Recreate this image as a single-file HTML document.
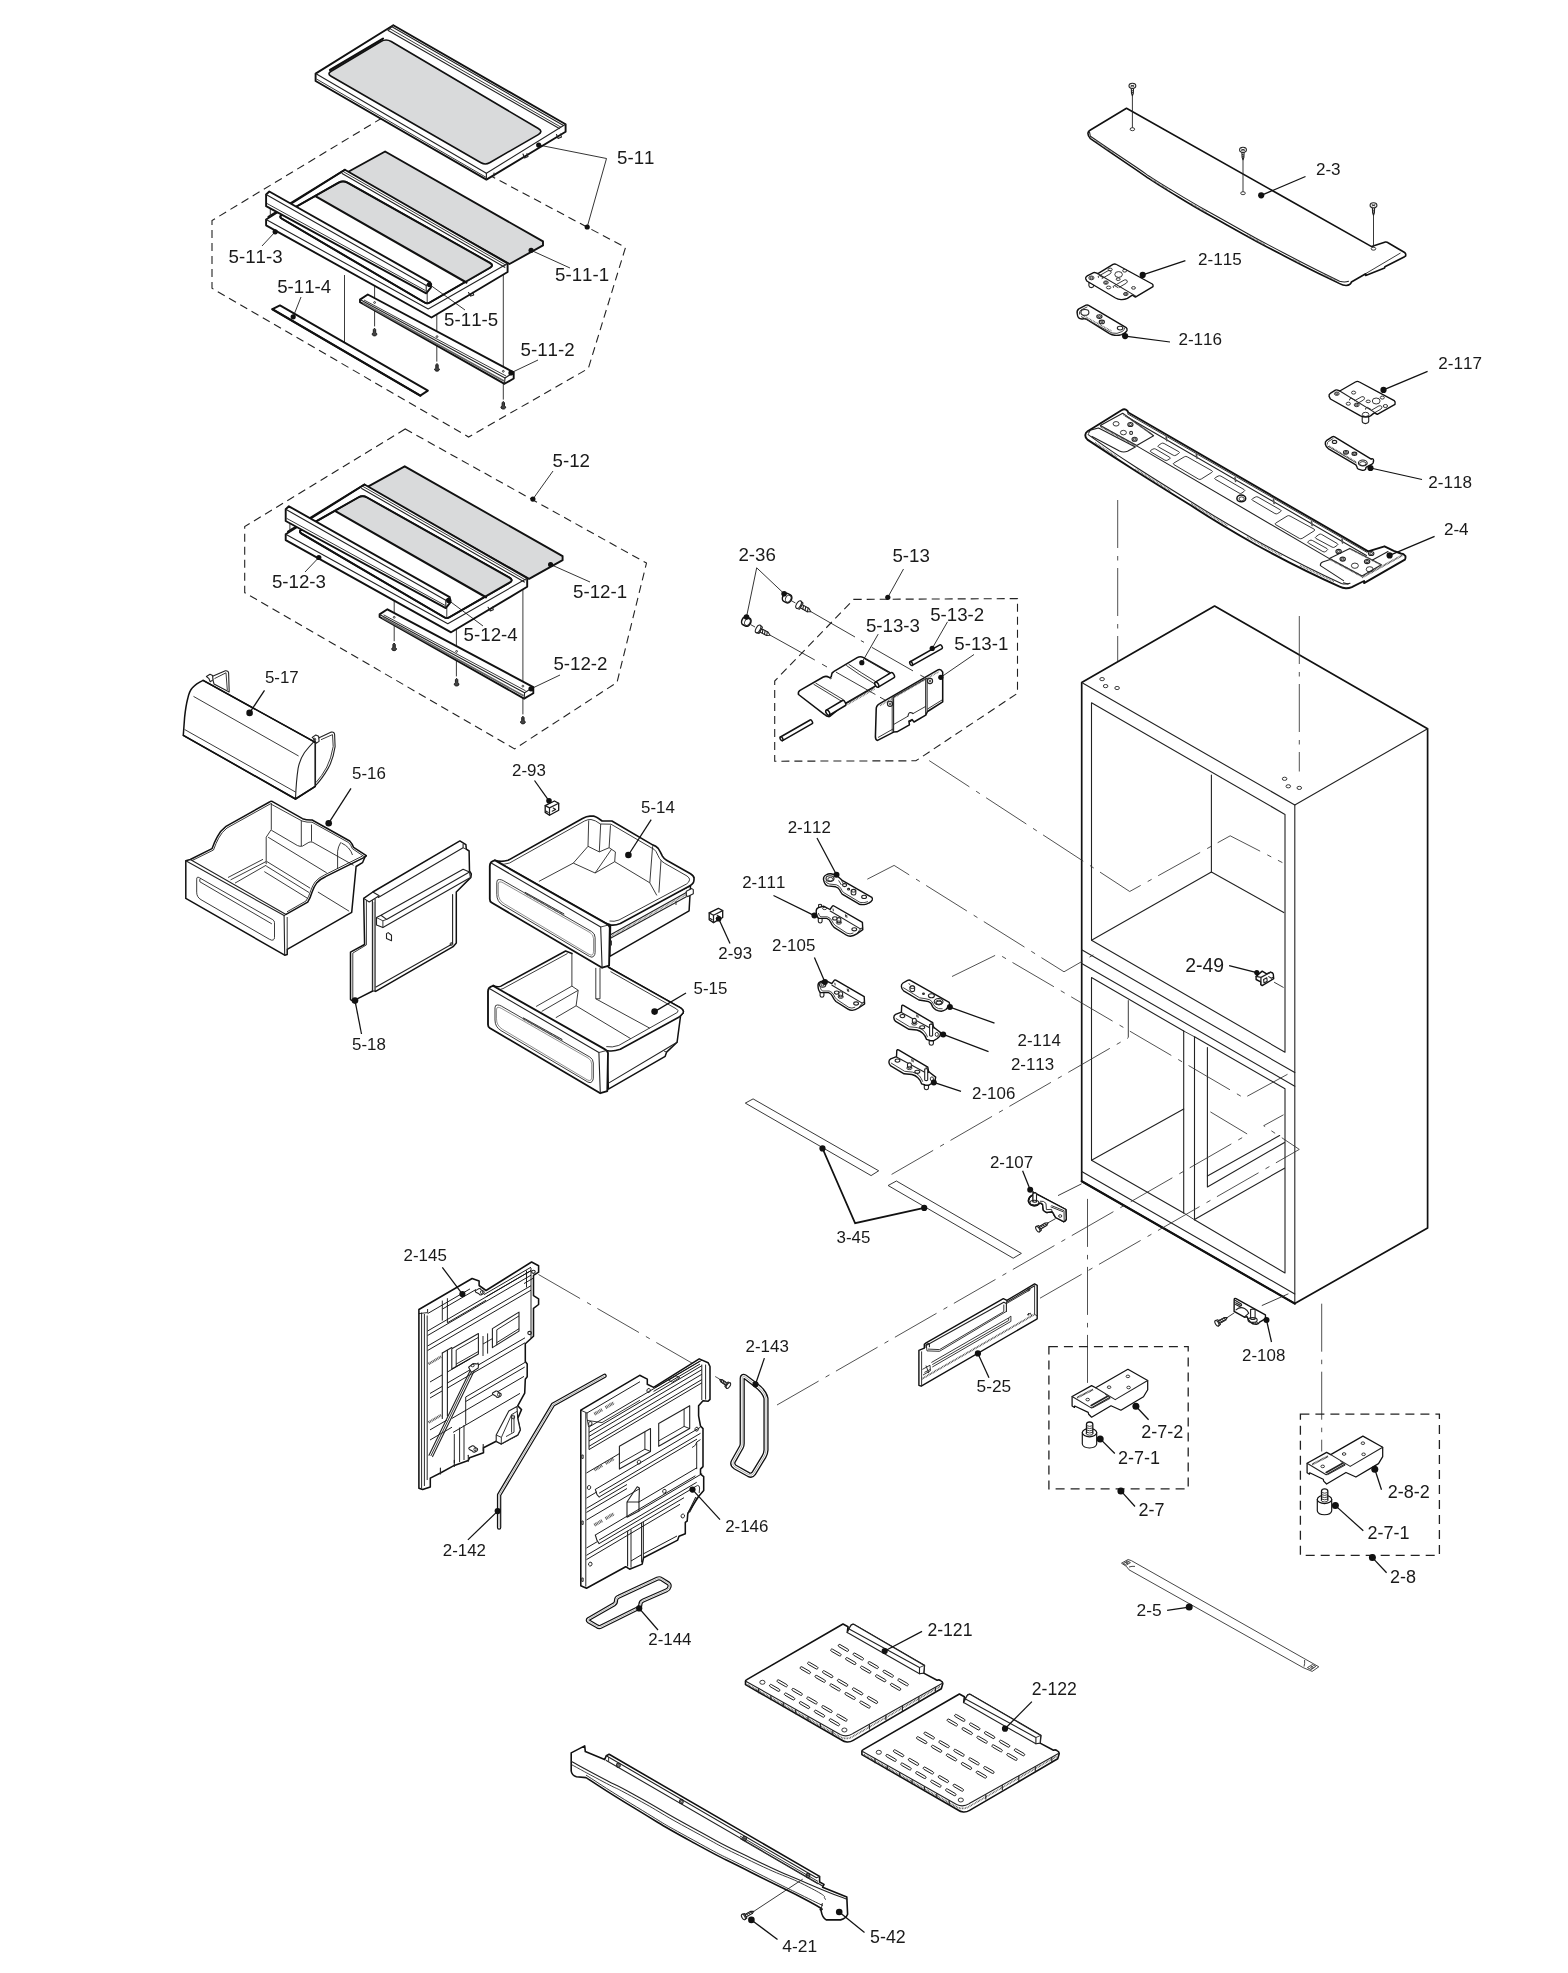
<!DOCTYPE html>
<html><head><meta charset="utf-8"><title>Exploded view</title>
<style>
html,body{margin:0;padding:0;background:#fff;}
body{width:1568px;height:1973px;overflow:hidden;font-family:"Liberation Sans",sans-serif;}
svg{display:block;will-change:transform;filter:blur(0.35px);}
.o{fill:none;stroke:#111;stroke-width:1.5;stroke-linejoin:round;stroke-linecap:round;}
.ow{fill:#fff;stroke:#111;stroke-width:1.5;stroke-linejoin:round;stroke-linecap:round;}
.og{fill:#d9dadb;stroke:#111;stroke-width:1.5;stroke-linejoin:round;}
.k{fill:none;stroke:#111;stroke-width:2.2;stroke-linejoin:round;stroke-linecap:round;}
.kw{fill:#fff;stroke:#111;stroke-width:2.2;stroke-linejoin:round;stroke-linecap:round;}
.m{fill:none;stroke:#222;stroke-width:1.1;stroke-linejoin:round;stroke-linecap:round;}
.mw{fill:#fff;stroke:#222;stroke-width:1.1;stroke-linejoin:round;stroke-linecap:round;}
.t{fill:none;stroke:#262626;stroke-width:0.9;stroke-linejoin:round;}
.tw{fill:#fff;stroke:#262626;stroke-width:0.9;stroke-linejoin:round;}
.d{fill:none;stroke:#222;stroke-width:1.1;stroke-dasharray:8 5;}
.c{fill:none;stroke:#333;stroke-width:0.85;stroke-dasharray:48 8 4.5 7.5;}
.l{fill:none;stroke:#111;stroke-width:1.1;}
.w{fill:#fff;stroke:none;}
.s1 .o,.s1 .ow,.s1 .og{stroke-width:1.9;}
text{font-family:"Liberation Sans",sans-serif;fill:#1a1a1a;font-kerning:none;}
</style></head><body>
<svg width="1568" height="1973" viewBox="0 0 1568 1973">
<rect width="1568" height="1973" fill="#fff"/>
<g class="s1">
<path class="d" d="M382,118 L212,220.5 L212,288.3 L468.6,437 L588.3,368.5 L625.5,247.5 Z" />
<path class="d" d="M405.2,429 L244.7,526.6 L244.7,592.6 L514.6,748.9 L617,682.4 L646.5,563.1 Z" />
<path class="ow" d="M315.6,73.6 L393.3,25.2 L565.6,124.3 L565.6,131.7 L486.4,179.6 L315.6,81 Z" />
<path class="m" d="M315.6,73.6 L486.4,173.2 L565.6,124.3" />
<path class="m" d="M486.4,173.2 L486.4,179.6" />
<path class="t" d="M316.5,79 L486,177.3" />
<path class="m" d="M391.5,26.5 L563.5,125.5" />
<path class="t" d="M389.8,28.6 L561,127.2" />
<path class="m" d="M388.2,30.4 L559.3,128.6" />
<path class="m" d="M393.3,25.2 L388.2,30.4" />
<path class="og" d="M331.1,76.3 Q326.8,73.8 331.1,71.2 L380.9,41.5 Q386,38.4 391.2,41.5 L538.3,128.5 Q543.5,131.6 538.3,134.6 L489.6,162.7 Q485.3,165.2 481,162.7 Z" style="stroke-width:1.6"/>
<path class="k" d="M330,70 L383,38.6" />
<path class="m" d="M523,154 l1.6,4 l3.4,-1.4 l-1,-3"/>
<path class="m" d="M556.5,134.5 l1.6,4 l3.4,-1.4 l-1,-3"/>
<path class="m" d="M494,173 v3"/>
<path class="og" d="M385.1,151.5 L543,241.4 L543,245.4 L509.5,264 L347,172.5 Z" />
<path class="t" d="M374.6,205 L374.6,326.4" />
<path class="t" d="M436.8,240 L436.8,361.6" />
<path class="t" d="M503.3,272 L503.3,399.6" />
<path class="t" d="M344.5,275 L344.5,346.5" />
<path class="ow" d="M344.9,169.7 L507.6,263.4 L507.6,272 L431.5,317.5 L266.1,225.3 L266.1,219.5 Z"/>
<path class="ow" d="M282,218.8 Q278.5,216.8 282,214.8 L338.7,182.7 Q343,180.2 347.4,182.7 L489.8,262.8 Q494.2,265.3 489.9,267.8 L429.8,302.5 Q427.2,304 424.6,302.5 Z"/>
<path d="M316.2,196.6 L339.5,183.2 Q343,181.2 346.5,183.2 L489.7,263.3 Q493.2,265.3 489.8,267.4 L466.4,282.3 Z" fill="#d9dadb" stroke="none"/>
<path class="k" d="M316.2,196.6 L466.4,282.5" />
<path class="o" d="M282,218.8 Q278.5,216.8 282,214.8 L338.7,182.7 Q343,180.2 347.4,182.7 L489.8,262.8 Q494.2,265.3 489.9,267.8 L429.8,302.5 Q427.2,304 424.6,302.5 Z"/>
<path class="m" d="M266.1,219.5 L428.2,309 L507.6,263.4" />
<path class="m" d="M342.1,173.6 L504.8,267.3" />
<path class="t" d="M343.3,171.6 L506.1,265.3" />
<path class="o" d="M268.4,216.7 L344.9,169.7" />
<path class="m" d="M468.5,292.5 l2.2,3.6 l3,-1.2 l-0.8,-2.6"/>
<path class="t" d="M270.3,206 L270.3,217" />
<path class="t" d="M427.2,293 L427.2,304" />
<path class="ow" d="M266.1,194.5 L269.3,191.5 L430.1,282.3 L431,287.3 L426.2,293.3 L266.1,206.2 Z" />
<path class="m" d="M266.1,194.5 L426.2,285.4 L426.2,293.3" />
<path class="m" d="M426.2,285.4 L430.1,282.3" />
<path class="t" d="M267,203.5 L425.5,290.6" />
<path class="ow" d="M360,299.6 L367.8,294.5 L513.7,372.3 L513.7,378.5 L504.5,383.8 L360,302.2 Z" />
<path class="m" d="M360,299.6 L505,378 L513.7,372.3" />
<path class="m" d="M505,378 L504.5,383.8" />
<path class="t" d="M364,300 L506,376" />
<path class="t" d="M363,303 L504,381" style="stroke-width:1.6;stroke:#666"/>
<circle class="t" cx="374.6" cy="302.5" r="0.9" />
<circle class="t" cx="437" cy="336.6" r="0.9" />
<circle class="t" cx="503.3" cy="371.3" r="0.9" />
<path d="M374.5,328.2 L375.7,329.6 L375.7,332.6 Q377.2,333.4 376.9,334.6 Q375.9,336 374.5,335.9 Q373.1,336 372.1,334.6 Q371.8,333.4 373.3,332.6 L373.3,329.6 Z" fill="#444" stroke="#111" stroke-width="0.9"/>
<path d="M437,363.5 L438.2,364.9 L438.2,367.9 Q439.7,368.7 439.4,369.9 Q438.4,371.3 437,371.2 Q435.6,371.3 434.6,369.9 Q434.3,368.7 435.8,367.9 L435.8,364.9 Z" fill="#444" stroke="#111" stroke-width="0.9"/>
<path d="M503.3,401.4 L504.5,402.8 L504.5,405.8 Q506,406.6 505.7,407.8 Q504.7,409.2 503.3,409.1 Q501.9,409.2 500.9,407.8 Q500.6,406.6 502.1,405.8 L502.1,402.8 Z" fill="#444" stroke="#111" stroke-width="0.9"/>
<path class="ow" d="M272.4,309.2 L280,305.4 L427.9,390.6 L420.3,395.6 Z" />
<path class="k" d="M272.4,309.2 L420.3,395.6" />
<g transform="translate(19.6 314.8)" >
<path class="og" d="M385.1,151.5 L543,241.4 L543,245.4 L509.5,264 L347,172.5 Z" />
<path class="t" d="M374.6,205 L374.6,326.4" />
<path class="t" d="M436.8,240 L436.8,361.6" />
<path class="t" d="M503.3,272 L503.3,399.6" />
<path class="ow" d="M344.9,169.7 L507.6,263.4 L507.6,272 L431.5,317.5 L266.1,225.3 L266.1,219.5 Z"/>
<path class="ow" d="M282,218.8 Q278.5,216.8 282,214.8 L338.7,182.7 Q343,180.2 347.4,182.7 L489.8,262.8 Q494.2,265.3 489.9,267.8 L429.8,302.5 Q427.2,304 424.6,302.5 Z"/>
<path d="M316.2,196.6 L339.5,183.2 Q343,181.2 346.5,183.2 L489.7,263.3 Q493.2,265.3 489.8,267.4 L466.4,282.3 Z" fill="#d9dadb" stroke="none"/>
<path class="k" d="M316.2,196.6 L466.4,282.5" />
<path class="o" d="M282,218.8 Q278.5,216.8 282,214.8 L338.7,182.7 Q343,180.2 347.4,182.7 L489.8,262.8 Q494.2,265.3 489.9,267.8 L429.8,302.5 Q427.2,304 424.6,302.5 Z"/>
<path class="m" d="M266.1,219.5 L428.2,309 L507.6,263.4" />
<path class="m" d="M342.1,173.6 L504.8,267.3" />
<path class="t" d="M343.3,171.6 L506.1,265.3" />
<path class="o" d="M268.4,216.7 L344.9,169.7" />
<path class="m" d="M468.5,292.5 l2.2,3.6 l3,-1.2 l-0.8,-2.6"/>
<path class="t" d="M270.3,206 L270.3,217" />
<path class="t" d="M427.2,293 L427.2,304" />
<path class="ow" d="M266.1,194.5 L269.3,191.5 L430.1,282.3 L431,287.3 L426.2,293.3 L266.1,206.2 Z" />
<path class="m" d="M266.1,194.5 L426.2,285.4 L426.2,293.3" />
<path class="m" d="M426.2,285.4 L430.1,282.3" />
<path class="t" d="M267,203.5 L425.5,290.6" />
<path class="ow" d="M360,299.6 L367.8,294.5 L513.7,372.3 L513.7,378.5 L504.5,383.8 L360,302.2 Z" />
<path class="m" d="M360,299.6 L505,378 L513.7,372.3" />
<path class="m" d="M505,378 L504.5,383.8" />
<path class="t" d="M364,300 L506,376" />
<path class="t" d="M363,303 L504,381" style="stroke-width:1.6;stroke:#666"/>
<circle class="t" cx="374.6" cy="302.5" r="0.9" />
<circle class="t" cx="437" cy="336.6" r="0.9" />
<circle class="t" cx="503.3" cy="371.3" r="0.9" />
<path d="M374.5,328.2 L375.7,329.6 L375.7,332.6 Q377.2,333.4 376.9,334.6 Q375.9,336 374.5,335.9 Q373.1,336 372.1,334.6 Q371.8,333.4 373.3,332.6 L373.3,329.6 Z" fill="#444" stroke="#111" stroke-width="0.9"/>
<path d="M437,363.5 L438.2,364.9 L438.2,367.9 Q439.7,368.7 439.4,369.9 Q438.4,371.3 437,371.2 Q435.6,371.3 434.6,369.9 Q434.3,368.7 435.8,367.9 L435.8,364.9 Z" fill="#444" stroke="#111" stroke-width="0.9"/>
<path d="M503.3,401.4 L504.5,402.8 L504.5,405.8 Q506,406.6 505.7,407.8 Q504.7,409.2 503.3,409.1 Q501.9,409.2 500.9,407.8 Q500.6,406.6 502.1,405.8 L502.1,402.8 Z" fill="#444" stroke="#111" stroke-width="0.9"/>
</g>
</g>
<path class="l" d="M538.7,145 L606.5,158.5 L587.2,227" style="stroke-width:0.85"/>
<circle cx="538.7" cy="145" r="2.6" fill="#111"/>
<circle cx="587.2" cy="227" r="2.6" fill="#111"/>
<path class="l" d="M275.2,231.8 L262,246" style="stroke-width:0.85"/>
<circle cx="275.2" cy="231.8" r="2.6" fill="#111"/>
<path class="l" d="M531.1,250.3 L570,268" style="stroke-width:0.85"/>
<circle cx="531.1" cy="250.3" r="2.6" fill="#111"/>
<path class="l" d="M429.5,284.5 L465,310" style="stroke-width:0.85"/>
<circle cx="429.5" cy="284.5" r="2.6" fill="#111"/>
<path class="l" d="M293.2,316.8 L301,297" style="stroke-width:0.85"/>
<circle cx="293.2" cy="316.8" r="2.6" fill="#111"/>
<path class="l" d="M510.9,372.9 L538,360" style="stroke-width:0.85"/>
<circle cx="510.9" cy="372.9" r="2.6" fill="#111"/>
<path class="l" d="M532.9,499.1 L553,471" style="stroke-width:0.85"/>
<circle cx="532.9" cy="499.1" r="2.6" fill="#111"/>
<path class="l" d="M318.8,557.5 L305,572" style="stroke-width:0.85"/>
<circle cx="318.8" cy="557.5" r="2.6" fill="#111"/>
<path class="l" d="M550.6,564.5 L590,582" style="stroke-width:0.85"/>
<circle cx="550.6" cy="564.5" r="2.6" fill="#111"/>
<path class="l" d="M448.7,600.4 L483,626" style="stroke-width:0.85"/>
<circle cx="448.7" cy="600.4" r="2.6" fill="#111"/>
<path class="l" d="M531,688.8 L560,675" style="stroke-width:0.85"/>
<circle cx="531" cy="688.8" r="2.6" fill="#111"/>
<text x="617" y="164.4" font-size="18.72">5-11</text>
<text x="228.5" y="263.2" font-size="18.72">5-11-3</text>
<text x="555" y="281.3" font-size="18.72">5-11-1</text>
<text x="277.2" y="293.2" font-size="18.72">5-11-4</text>
<text x="444.1" y="325.5" font-size="18.72">5-11-5</text>
<text x="520.5" y="355.8" font-size="18.72">5-11-2</text>
<text x="552.5" y="467.2" font-size="18.72">5-12</text>
<text x="271.9" y="587.8" font-size="18.72">5-12-3</text>
<text x="573" y="597.6" font-size="18.72">5-12-1</text>
<text x="463.6" y="641.2" font-size="18.72">5-12-4</text>
<text x="553.4" y="669.7" font-size="18.72">5-12-2</text>
<path class="mw" d="M212,676.6 L225.4,670.8 Q228.4,670.6 228.6,672.8 L229.2,692 L214,684 Z"/>
<path class="t" d="M214.5,678.6 L226,672.8 L227.3,690"/>
<path class="mw" d="M319.1,737.8 L331.3,732.1 Q334.4,731.6 334.6,734.5 L335.1,746.7 Q333,760 328.1,768.4 Q322,779 315.3,785.8 L315.3,742 Z"/>
<path class="t" d="M321,739.7 L332.5,734.6 L333.2,746.5 Q331,759 326.8,767 Q322,776 316,782.5"/>
<path class="ow" d="M183.3,735.3 L184.6,717.4 Q185.8,706 187.8,698.3 Q189.5,691 192.2,688.1 Q196,683.6 203.1,680.4 L314,741.6 L315.3,742.9 L315.3,786.3 L295.5,799 Z"/>
<path class="m" d="M314,741.6 Q309,746.5 304.5,752.5 Q299.8,759.5 298.1,768.4 Q296.2,781 295.5,799"/>
<path class="m" d="M315.3,742.9 L315.3,786.3"/>
<path class="t" d="M193.5,696.4 L298.6,756" />
<path class="t" d="M184.6,729.5 L295.8,792.2" />
<path class="o" d="M203.1,680.4 L314,741.6" style="stroke-width:1.5"/>
<path class="o" d="M183.3,735.3 L295.5,799 L315.3,786.3" style="stroke-width:1.5"/>
<path class="mw" d="M206.4,676.5 l3.6,-2.2 l2.6,1.2 l0.4,4.4 l-2.8,1.8 l-1.2,-3 Z"/>
<path class="mw" d="M312.2,737.4 l3.6,-2.4 l2.8,1.2 l0.5,5.2 l-3,1.8 l-1.4,-3.6 Z"/>
<circle class="t" cx="314.6" cy="739.3" r="1.1" />
<path class="ow" d="M185.8,860.8 L190.3,859.5 L212,848.7 Q214.5,842 217.1,837.2 Q220.5,830.5 226,826.4 L269.5,802 Q271.3,800.6 273.4,802.2 L302.5,818.7 Q307,820.3 312.1,820 L349.7,841 Q352.2,843.6 353.6,847.4 L366.3,855.7 L365,857 L362.5,862.7 L356.1,866.5 L351.7,912.4 L287.2,949.4 L287.2,954.5 L284.7,955.2 L185.8,898.4 Z" style="stroke-width:1.5"/>
<path class="t" d="M271.3,803 L271.3,829.5 L266.2,837.2 L266.2,864" />
<path class="t" d="M266.2,861.5 L230.5,879.9" />
<path class="t" d="M266.2,865.2 L235,883.1" />
<path class="t" d="M263,859.3 L228,877.5" />
<path class="t" d="M266.8,861.5 L310.2,888.2" />
<path class="t" d="M264.3,871.6 L307.7,898.4" />
<path class="t" d="M266.2,866 L309,892.5" />
<path class="t" d="M271.3,830.2 L297.4,845.5 Q300,846.8 302.5,846.1 L308.9,842.3 Q311,841.5 312.8,842.3 L353.6,865.3"/>
<path class="t" d="M301.3,820.6 L301.3,846.1" />
<path class="t" d="M311.5,824.5 L311.5,841.5" />
<path class="t" d="M268.1,837.2 L326.8,872.9" />
<path class="t" d="M340.8,842.3 Q338,847 337.6,851.2 L337.6,869"/>
<path class="t" d="M341.5,843 Q350,847 352.5,855"/>
<path class="t" d="M317.9,892 L349.1,911.2" />
<path class="o" d="M286,914.4 L307.7,902.2 Q310.5,897.5 312.1,892 Q314,886.5 316.6,883.1 Q320,879 325.5,876.7 L363.8,857.6 L366.3,855.7" style="stroke-width:1.5"/>
<path class="t" d="M287,911.8 L306,901 Q309,896.5 310.6,891 Q312.5,885.5 315.2,881.8 Q318.5,877.8 324.5,875 L362.5,856"/>
<path class="m" d="M185.8,860.8 L284.1,915.6 L284.7,955.2" />
<path class="m" d="M190.3,859.5 L286,914.4" />
<path class="m" d="M284.1,915.6 L286,914.4" />
<path class="t" d="M287.2,917 L287.2,949.4" />
<path class="t" d="M192,860.6 L213.5,850 Q216,843 218.6,838.2 Q221.8,832 227,828 L270.5,803.8 L302,821 Q307,822.6 312,822.2 L348.5,842.5 Q351,845 352.3,848.6 L364,856.5"/>
<path class="t" d="M196.7,879.2 Q196.7,876.2 199.3,877.7 L272.8,919.7 Q274.5,920.7 274.5,922.7 L274.5,937.4 Q274.5,939.4 273.2,940 L273.2,940 Q271.9,940.7 269.3,939.2 L201,899.7 Q196.7,897.2 196.7,892.2 Z"/>
<path class="t" d="M199.9,881.8 L271.9,923.9" />
<path class="t" d="M199.9,881.8 Q199.2,879.5 200.6,878.4"/>
<path class="ow" d="M363.7,898.4 L372.8,892 L459.9,840.9 L465.9,844.6 L466.3,849.2 L469.1,851 L469.5,871 L471.3,873.8 L470.9,877.4 L456.3,892 L456.3,943.1 L453.1,946.7 L375.6,991.4 L373.7,990.5 L358.2,998.3 L353.7,1001.5 L350.5,999.6 L350.5,952.2 L364.6,944.5 Z" style="stroke-width:1.5"/>
<rect x="372.4" y="902" width="2.7" height="88.5" fill="#cfcfcf" stroke="none" transform="skewY(0)"/>
<path class="m" d="M372.4,900.5 L372.4,990.8" />
<path class="m" d="M375.1,899 L375.1,991" />
<path class="t" d="M366.4,900.2 L366.4,944.9 L352.8,953.1 L352.8,998.7" />
<path class="m" d="M363.7,898.4 L369.2,902 L379.2,895.7 L372.8,892" />
<path class="m" d="M378.3,897.5 L463.1,847.8 L463.1,844" />
<path class="t" d="M463.1,847.8 L466.3,849.2" />
<path class="mw" d="M376.5,917.6 L381,915.3 L463.1,869.2 L469.5,872 L470.4,877.4 L382.9,927.6 L376.5,924.9 Z" />
<path class="m" d="M381,915.3 L386.5,919.4 L469.5,872" />
<path class="t" d="M386.5,919.4 L382.9,920.8 L376.5,917.6" />
<path class="t" d="M382.9,920.8 L382.9,927.6" />
<path class="m" d="M452.6,894.5 L452.6,943.1 L450.4,944.9" />
<path class="m" d="M376,986.9 L450.4,944.9" />
<circle class="t" cx="451.5" cy="944" r="1.4" />
<path class="m" d="M386.5,933.6 L388.2,932.6 L391.5,935.2 L391.5,940.8 L386.5,938.6 Z" />
<path class="l" d="M249.6,712.9 L264.5,690.4" style="stroke-width:1.25"/>
<circle cx="249.6" cy="712.9" r="3.3" fill="#111"/>
<path class="l" d="M328.7,823.2 L351,788.4" style="stroke-width:1.25"/>
<circle cx="328.7" cy="823.2" r="3.3" fill="#111"/>
<path class="l" d="M355,1000.6 L361.5,1034" style="stroke-width:1.25"/>
<circle cx="355" cy="1000.6" r="3.3" fill="#111"/>
<text x="264.9" y="682.8" font-size="16.9">5-17</text>
<text x="352" y="779.3" font-size="16.9">5-16</text>
<text x="352" y="1049.7" font-size="16.9">5-18</text>
<path class="ow" d="M608.4,967.2 L680.6,1007.9 Q683.2,1009.6 683.4,1011.4 Q683.4,1013.2 682,1014.2 L680.6,1015.6 L677.1,1042.2 L666.6,1052.1 L665.2,1056.3 L608.4,1089.2 L607,1050.6 Z"/>
<path class="w" d="M493.3,985.4 Q497.5,987.8 501,986.1 L565.6,951 L608.4,967.2 L680.6,1007.9 Q683.2,1009.6 683.4,1011.4 Q683.4,1013.2 682,1014.2 L679.2,1017 L620.3,1049.3 Q613,1051.8 607.7,1050.7 Z"/>
<path class="o" style="stroke-width:1.6" d="M493.3,985.4 Q497.5,987.8 501,986.1 L565.6,951 L572,953.4"/>
<path class="o" style="stroke-width:1.6" d="M608.4,967.2 L680.6,1007.9 Q683.2,1009.6 683.4,1011.4 Q683.4,1013.2 682,1014.2 L679.2,1017 L620.3,1049.3 Q613,1051.8 607.7,1050.7"/>
<path class="t" d="M497.5,989 Q500.5,990 503,988.6 L567.5,953.5 M610.5,971.6 L676.6,1009 Q679,1010.6 677.4,1012.4 L618.8,1045.4 Q612,1047.8 606.3,1046.6"/>
<path class="t" d="M571.9,953.9 L571.9,986.1 L536.1,1006.5" />
<path class="t" d="M571.9,986.1 L578.2,990.3 L541.7,1011.4" />
<path class="t" d="M578.2,990.3 L576.1,1005.8 L555.8,1017.7" />
<path class="t" d="M576.1,1005.8 L630.8,1038.7" />
<path class="t" d="M595.8,967.9 L595.8,998.8 L649.8,1028.2" />
<path class="t" d="M600,967.9 L600,998.8 L595.8,998.8" />
<path class="m" d="M677.1,1042.2 L607.7,1083.6" />
<path class="t" d="M666.6,1052.1 L664,1051" />
<g transform="translate(-1.8 125.5)" >
<path class="kw" style="stroke-width:1.85" d="M489.8,866.5 Q489.6,861.5 494.7,860.3 L606,923.4 Q609.6,925.4 609.8,927.7 L609.1,965.6 L602.1,967.7 L491.5,902.5 Q489.8,901.5 489.8,899 Z"/>
<path class="m" d="M491.2,863 L600.7,927 L602.1,967.7" />
<path class="t" d="M600.7,927 L608.5,925" />
<path class="t" d="M496.8,882.3 Q496.8,879.3 499.1,879.5 L499.5,879.5 Q501.5,879.6 503.2,880.6 L591.6,931.5 Q595.1,933.5 595.1,937.5 L595.1,952.6 Q595.1,954.6 593.8,956.1 L593.7,956.3 Q592.2,958 589.6,956.5 L502.8,905.1 Q496.8,901.5 496.8,894.5 Z"/>
<path class="t" d="M498.3,884.6 Q498.3,881.6 499.9,881.8 L499.9,881.8 Q501.5,881.9 503.2,882.9 L590,932.6 Q593.5,934.6 593.5,938.6 L593.5,951.6 Q593.5,953.6 592.5,954.7 L592.5,954.7 Q591.6,955.8 589,954.3 L504.3,903.8 Q498.3,900.2 498.3,893.2 Z" style="stroke-width:0.5"/>
<path class="t" d="M524.9,893.3 L564.2,915.1" style="stroke:#555;stroke-width:1.8;stroke-dasharray:0.8 0.8"/>
<path class="t" d="M524.9,892.2 L564.2,914" />
</g>
<path class="ow" d="M610.5,924.9 L689.1,886.3 L690.5,885.6 L689.1,910.8 L609.8,956.4 Z"/>
<path class="m" d="M610.5,934.7 L686.3,892.6" />
<path class="m" d="M610.5,938.2 L686.3,896.8" />
<path class="t" d="M611,936.4 L686,894.6" style="stroke:#777;stroke-width:1.6;stroke-dasharray:0.7 0.7"/>
<path class="mw" d="M686.3,891.2 l5.5,-2.6 l1.5,1 v4.2 l-5.5,2.8 l-1.5,-0.8 Z"/>
<path class="t" d="M611.5,940.5 L611.5,945.5" />
<path class="t" d="M676,901 L676,905" />
<path class="ow" d="M494.7,860.3 Q501,862.5 508.1,860.3 L582.5,818.5 Q586.6,816.1 590,816.1 L593.7,816.1 Q597,817 602.1,821 L611.9,821 L652.6,844.9 Q656,846 658.2,848.4 Q660.5,852 662.4,856.1 Q664,858.8 666.6,860.3 L690.5,873.7 Q694,876 694,877.9 Q694.2,881 693.3,882.8 Q692,884.8 689.1,886.3 L620.3,923.5 Q615,925.6 610.5,924.9 L606,923.4 Z" style="stroke-width:1.65"/>
<path class="t" d="M499,863.8 Q504,865 509.5,863 L584.5,821 Q588,819.3 591,819.5 Q595,820 600.5,824 L611,824.2 L651,847.6 Q654.5,849 656,851.5 Q658,855.5 659.6,858.6 Q661.5,861.5 664.5,863.2 L687,876 Q689.8,878 689.6,879.8 Q689,882.6 686.5,884 L619,920 Q614,922 609.5,921"/>
<path class="t" d="M588.7,820.5 L588,846.3 L573.3,863.1 L538.9,881.4" />
<path class="t" d="M600.7,823.9 L599.3,851.9" />
<path class="t" d="M610.5,825.3 L609.1,847.7" />
<path class="t" d="M588,846.3 L599.3,851.9 L609.1,847.7 L615.4,851.9 L614.7,861.7 L595.1,873 L573.3,863.1" />
<path class="t" d="M595.1,873 L611.5,849.3" />
<path class="t" d="M614.7,861.7 L649.8,882.8 L656.8,895.4" />
<path class="t" d="M652.6,846.3 L649.8,882.8" />
<path class="t" d="M661,860.3 L658.9,892.6" />
<path class="kw" style="stroke-width:1.85" d="M489.8,866.5 Q489.6,861.5 494.7,860.3 L606,923.4 Q609.6,925.4 609.8,927.7 L609.1,965.6 L602.1,967.7 L491.5,902.5 Q489.8,901.5 489.8,899 Z"/>
<path class="m" d="M491.2,863 L600.7,927 L602.1,967.7" />
<path class="t" d="M600.7,927 L608.5,925" />
<path class="t" d="M496.8,882.3 Q496.8,879.3 499.1,879.5 L499.5,879.5 Q501.5,879.6 503.2,880.6 L591.6,931.5 Q595.1,933.5 595.1,937.5 L595.1,952.6 Q595.1,954.6 593.8,956.1 L593.7,956.3 Q592.2,958 589.6,956.5 L502.8,905.1 Q496.8,901.5 496.8,894.5 Z"/>
<path class="t" d="M498.3,884.6 Q498.3,881.6 499.9,881.8 L499.9,881.8 Q501.5,881.9 503.2,882.9 L590,932.6 Q593.5,934.6 593.5,938.6 L593.5,951.6 Q593.5,953.6 592.5,954.7 L592.5,954.7 Q591.6,955.8 589,954.3 L504.3,903.8 Q498.3,900.2 498.3,893.2 Z" style="stroke-width:0.5"/>
<path class="t" d="M524.9,893.3 L564.2,915.1" style="stroke:#555;stroke-width:1.8;stroke-dasharray:0.8 0.8"/>
<path class="t" d="M524.9,892.2 L564.2,914" />
<path class="ow" style="stroke-width:1.3" d="M545.2,805.6 L554.4,801 L558.7,803.3 L558.7,810.2 L549.5,815.3 L545.2,812.4 Z"/>
<path class="m" style="stroke-width:1.2" d="M545.2,805.6 L549.5,807.9 L558.7,803.3 M549.5,807.9 V815.3"/>
<path class="m" style="stroke-width:1.1" d="M552.2,811.2 l3.4,-1.8 M553.2,808 l2.4,1.4 M546.2,811.2 l2,1.2"/>
<path class="ow" style="stroke-width:1.3" d="M709.2,912.9 L718.4,908.3 L722.7,910.6 L722.7,917.5 L713.5,922.6 L709.2,919.7 Z"/>
<path class="m" style="stroke-width:1.2" d="M709.2,912.9 L713.5,915.2 L722.7,910.6 M713.5,915.2 V922.6"/>
<path class="m" style="stroke-width:1.1" d="M716.2,918.5 l3.4,-1.8 M717.2,915.3 l2.4,1.4 M710.2,918.5 l2,1.2"/>
<path class="l" d="M628.4,855 L651.2,819.6" style="stroke-width:1.25"/>
<circle cx="628.4" cy="855" r="3.3" fill="#111"/>
<path class="l" d="M654.6,1011.6 L686,993" style="stroke-width:1.25"/>
<circle cx="654.6" cy="1011.6" r="3.3" fill="#111"/>
<path class="l" d="M549,800.8 L534.5,780.5" style="stroke-width:1.25"/>
<circle cx="549" cy="800.8" r="2.8" fill="#111"/>
<path class="l" d="M718.7,918.8 L730,943.5" style="stroke-width:1.25"/>
<circle cx="718.7" cy="918.8" r="2.8" fill="#111"/>
<text x="641.1" y="813.1" font-size="16.9">5-14</text>
<text x="693.5" y="993.5" font-size="16.9">5-15</text>
<text x="512.1" y="775.8" font-size="16.9">2-93</text>
<text x="718.3" y="958.5" font-size="16.9">2-93</text>
<path class="d" d="M853.7,599.4 L1017.5,598.6 L1017.5,693.3 L915.9,760.8 L774.7,761.2 L774.7,681 Z" />
<g transform="translate(787.3 598.2) rotate(28)">
<path class="ow" d="M-1.6,-4.4 L1.2,-4.4 A3.2,4.4 0 0 1 1.2,4.4 L-1.6,4.4 A3.2,4.4 0 0 1 -1.6,-4.4 Z"/>
<ellipse class="t" cx="1.0" cy="0" rx="2.6" ry="3.6"/>
</g>
<g transform="translate(746.5 621.6) rotate(28)">
<path class="ow" d="M-1.6,-4.4 L1.2,-4.4 A3.2,4.4 0 0 1 1.2,4.4 L-1.6,4.4 A3.2,4.4 0 0 1 -1.6,-4.4 Z"/>
<ellipse class="t" cx="1.0" cy="0" rx="2.6" ry="3.6"/>
</g>
<path class="t" d="M791,600.5 L795.5,603" />
<path class="t" d="M751,624.8 L755,627" />
<g transform="translate(798.6 604.6) rotate(30.2)">
<path class="mw" d="M0,-4.2 L3.1,-3.57 L3.1,3.57 L0,4.2 Z"/>
<ellipse class="mw" cx="0" cy="0" rx="2.1" ry="4.2"/>
<path class="mw" d="M3.1,-1.8 L11,-1.8 L14.1,0 L11,1.8 L3.1,1.8 Z"/>
<path class="m" d="M4.7,-1.8 L5.9,1.8"/>
<path class="m" d="M7.3,-1.8 L8.5,1.8"/>
<path class="m" d="M10,-1.8 L11.2,1.8"/>
</g>
<g transform="translate(758.1 628.9) rotate(28.3)">
<path class="mw" d="M0,-4.2 L3,-3.57 L3,3.57 L0,4.2 Z"/>
<ellipse class="mw" cx="0" cy="0" rx="2.1" ry="4.2"/>
<path class="mw" d="M3,-1.8 L10.5,-1.8 L13.5,0 L10.5,1.8 L3,1.8 Z"/>
<path class="m" d="M4.5,-1.8 L5.7,1.8"/>
<path class="m" d="M7,-1.8 L8.2,1.8"/>
<path class="m" d="M9.5,-1.8 L10.7,1.8"/>
</g>
<g transform="translate(781.5 738.8) rotate(-29.8)">
<path class="ow" d="M0,-2.1 L34.2,-2.1 A1.1,2.1 0 0 1 34.2,2.1 L0,2.1 Z"/>
<ellipse class="ow" cx="0" cy="0" rx="1.2" ry="2.1"/>
</g>
<g transform="translate(911.2 663.6) rotate(-29.6)">
<path class="ow" d="M0,-2.1 L34.2,-2.1 A1.1,2.1 0 0 1 34.2,2.1 L0,2.1 Z"/>
<ellipse class="ow" cx="0" cy="0" rx="1.2" ry="2.1"/>
</g>
<path class="ow" d="M798.5,694.5 Q797.8,691.8 800,690.4 L823.3,677 Q826.5,675.6 829,677.4 Q831.2,678.4 831.6,674.8 Q831.6,672.8 833.6,671.7 L857.2,657.6 Q860.3,655.9 863.6,657.6 L890,672.7 L876,685.6 L846.3,703 L829.5,716.6 Q826.6,716.8 824.6,714.6 Z" style="stroke-width:1.55"/>
<path class="t" d="M813.6,684.2 L841.5,701.2" />
<path class="t" d="M815.5,683 L843.5,699.8" />
<path class="t" d="M846.3,665.4 Q858,674 874.2,683.6 M848.6,664.2 Q861,672.8 876,681.8"/>
<path class="t" d="M864.5,658.8 L888,672.4"/>
<path class="m" d="M848,702.6 L874,687.6" />
<path class="t" d="M847.5,704.4 L874.5,689" style="stroke-width:1.6;stroke:#666;stroke-dasharray:0.8 0.8"/>
<path class="t" d="M829.6,678.4 q1.4,1.4 2,-0.6"/>
<g transform="translate(876.8 684.6) rotate(-30.7)">
<path class="ow" d="M0,-2.9 L18.4,-2.9 A1.4,2.9 0 0 1 18.4,2.9 L0,2.9 Z"/>
<ellipse class="ow" cx="0" cy="0" rx="1.6" ry="2.9"/>
</g>
<g transform="translate(827.8 712.6) rotate(-30.7)">
<path class="ow" d="M0,-2.9 L18.8,-2.9 A1.4,2.9 0 0 1 18.8,2.9 L0,2.9 Z"/>
<ellipse class="ow" cx="0" cy="0" rx="1.6" ry="2.9"/>
</g>
<path class="ow" d="M876.2,709.4 Q876,705.6 879.7,703.6 L938.4,669.7 Q940.8,668.6 942.7,672.1 L942.7,701.8 L927.5,711.5 L925.7,715.1 L914,722 L912,719.6 L909,721.2 L909.4,724.8 L897,731.8 L893.6,732.1 L877.6,740.4 Q875.6,740.2 875.4,736.9 Z" style="stroke-width:1.55"/>
<path class="m" d="M893.6,697 L925.7,678.8 L925.7,715.1" />
<path class="m" d="M893.6,697 L893.6,732.1" />
<path class="t" d="M892.2,696 L892.2,731.8" />
<path class="t" d="M927.2,678 L927.2,711.5" />
<path class="t" d="M880,705.6 L938.6,671.8" style="stroke-width:1.5;stroke:#666;stroke-dasharray:0.8 0.8"/>
<path class="t" d="M893.6,724.5 L908,716.2" />
<path class="t" d="M913,713.6 L925.7,706.4" />
<path class="m" d="M908,716.2 Q908.6,712.2 910.6,712.6 Q912.6,713 913,713.6 M909,721.2 Q910.6,722.4 912,719.6"/>
<path class="t" d="M878,737.5 L893,729" />
<path class="t" d="M927.5,709 L942,700" />
<circle class="m" cx="890" cy="703.8" r="2.6" />
<circle class="t" cx="890" cy="703.8" r="0.8" />
<circle class="m" cx="930" cy="681" r="2.6" />
<circle class="t" cx="930" cy="681" r="0.8" />
<path class="t" d="M810.8,611.6 L855,637" />
<path class="t" d="M860.9,640.6 L864,642.3" />
<path class="t" d="M871.8,647.3 L913,670.9" />
<path class="t" d="M920.3,675.1 L927.5,679" />
<path class="t" d="M770,635.1 L814.8,660" />
<path class="t" d="M822.1,664.2 L827,667" />
<path class="t" d="M836,672.1 L875.4,694.5" />
<path class="t" d="M880,697.2 L885,700" />
<path class="l" d="M784.1,593.7 L756.7,567.8 L746.5,617" style="stroke-width:0.85"/>
<circle cx="784.1" cy="593.7" r="2.8" fill="#111"/>
<circle cx="746.5" cy="617" r="2.8" fill="#111"/>
<path class="l" d="M887.8,597.3 L903.5,569" style="stroke-width:0.85"/>
<circle cx="887.8" cy="597.3" r="2.6" fill="#111"/>
<path class="l" d="M861.8,662.7 L878.2,634.1" style="stroke-width:0.85"/>
<circle cx="861.8" cy="662.7" r="2.6" fill="#111"/>
<path class="l" d="M932.2,648.4 L947.5,621.8" style="stroke-width:0.85"/>
<circle cx="932.2" cy="648.4" r="2.6" fill="#111"/>
<path class="l" d="M940.8,677.3 L974,654.5" style="stroke-width:0.85"/>
<circle cx="940.8" cy="677.3" r="2.6" fill="#111"/>
<text x="738.4" y="561.4" font-size="18.72">2-36</text>
<text x="892.4" y="562.4" font-size="18.72">5-13</text>
<text x="865.9" y="631.8" font-size="18.72">5-13-3</text>
<text x="930.2" y="620.6" font-size="18.72">5-13-2</text>
<text x="954.3" y="650.2" font-size="18.72">5-13-1</text>
<path class="ow" d="M1126.5,108.3 L1371.6,246.6 L1385.4,242 Q1387,241.8 1388,242.7 L1404.6,252.5 Q1406.2,253.6 1405.6,256 L1404.6,256.7 L1384.9,266.8 L1384.6,268 L1365.7,275.5 L1365.7,273.8 L1351.4,282 Q1350.8,285 1346.1,285.5 Q1343,285.4 1339.6,283.6 C1321.3,274.5 1322.2,275.7 1284.8,256.2 C1247.4,236.7 1265.7,246.6 1227.4,225.2 C1189.1,203.8 1202.5,211.8 1170,191.9 C1137.5,172 1156.5,183.4 1130,165.6 C1103.5,147.8 1103.6,147.6 1090.4,138.6 Q1087.6,136 1088,132.8 Q1088.2,131.2 1090,130.2 Z" style="stroke-width:1.6"/>
<path class="m" d="M1089.5,132 L1090.4,136.3 C1103.6,145.2 1103.5,145.4 1130,163 C1156.5,180.6 1137.5,169.4 1170,189.1 C1202.5,208.8 1189.1,200.7 1227.4,222.2 C1265.7,243.7 1247.4,233.8 1284.8,253.5 C1322.2,273.2 1321.3,272 1339.6,281.3 Q1345,282.6 1348.5,281.2"/>
<path class="t" d="M1400.5,253 L1365.7,273.6" />
<path class="t" d="M1096.1,141.2 L1098.4,142.8 L1100.6,144.4 L1102.8,145.9 L1105.2,147.5 L1107.8,149.3 L1110.9,151.4 L1114.5,153.9" style="stroke-width:1.5;stroke:#777;stroke-dasharray:0.8 0.8"/>
<path class="t" d="M1151.1,178.9 L1153.8,180.6 L1157.6,183 L1162.9,186.2 L1170,190.6" style="stroke-width:1.5;stroke:#777;stroke-dasharray:0.8 0.8"/>
<path class="t" d="M1190.8,203.3 L1193.8,205.1 L1196.5,206.7 L1199.4,208.3 L1202.7,210.2 L1206.9,212.4" style="stroke-width:1.5;stroke:#777;stroke-dasharray:0.8 0.8"/>
<path class="t" d="M1247.3,235 L1251,237.1 L1253.9,238.8 L1256.4,240.1 L1258.9,241.5 L1261.8,243 L1265.4,244.9" style="stroke-width:1.5;stroke:#777;stroke-dasharray:0.8 0.8"/>
<path class="t" d="M1293.4,259.4 L1300.6,263.1" style="stroke-width:1.5;stroke:#777;stroke-dasharray:0.8 0.8"/>
<path class="t" d="M1322.6,274 L1325.6,275.5 L1328.6,276.9 L1331.8,278.5 L1335.4,280.2" style="stroke-width:1.5;stroke:#777;stroke-dasharray:0.8 0.8"/>
<path class="t" d="M1132.4,94.8 L1132.4,127.8" style="stroke:#222"/>
<ellipse class="t" cx="1132.4" cy="129.2" rx="2.3" ry="1.5" />
<path class="m" d="M1131.3,88.3 L1131.5,93.3 L1132.4,95.8 L1133.3,93.3 L1133.5,88.3" style="fill:#fff"/>
<path class="t" d="M1131.4,90.3 l2,0.8 M1131.4,92.1 l2,0.8"/>
<ellipse class="mw" cx="1132.4" cy="85.8" rx="3.4" ry="2.6" />
<path class="t" d="M1130.6,85 l3.6,1.6 M1130.6,86.6 l3.6,-1.6"/>
<path class="t" d="M1243,158.8 L1243,191.8" style="stroke:#222"/>
<ellipse class="t" cx="1243" cy="193.2" rx="2.3" ry="1.5" />
<path class="m" d="M1241.9,152.3 L1242.1,157.3 L1243,159.8 L1243.9,157.3 L1244.1,152.3" style="fill:#fff"/>
<path class="t" d="M1242,154.3 l2,0.8 M1242,156.1 l2,0.8"/>
<ellipse class="mw" cx="1243" cy="149.8" rx="3.4" ry="2.6" />
<path class="t" d="M1241.2,149 l3.6,1.6 M1241.2,150.6 l3.6,-1.6"/>
<path class="t" d="M1373.5,214.3 L1373.5,247.3" style="stroke:#222"/>
<ellipse class="t" cx="1373.5" cy="248.7" rx="2.3" ry="1.5" />
<path class="m" d="M1372.4,207.8 L1372.6,212.8 L1373.5,215.3 L1374.4,212.8 L1374.6,207.8" style="fill:#fff"/>
<path class="t" d="M1372.5,209.8 l2,0.8 M1372.5,211.6 l2,0.8"/>
<ellipse class="mw" cx="1373.5" cy="205.3" rx="3.4" ry="2.6" />
<path class="t" d="M1371.7,204.5 l3.6,1.6 M1371.7,206.1 l3.6,-1.6"/>
<path class="mw" d="M1088.9,282.4 v3.2 q0.2,2 2.4,2 q2.2,0 2.4,-2 v-2.6 Z"/>
<path class="ow" d="M1085.7,278.8 Q1085.2,276.9 1087.2,275.8 L1093.6,272.6 Q1094.8,272.2 1096,272.8 L1097.9,273.7 L1113,264.4 Q1114.7,263.4 1116.5,264.5 L1152.3,284 Q1153.4,284.7 1153,286.7 L1135.4,297.1 L1132.3,295.2 L1127.4,298.4 Q1124.5,299.8 1121,299.6 Q1118,299.4 1115.5,298 L1086.8,281 Z" style="stroke-width:1.4"/>
<path class="m" d="M1097.9,273.7 L1135.4,295.9" />
<ellipse class="t" cx="1110.2" cy="269.5" rx="2" ry="1.4" style="stroke:#222"/>
<ellipse class="t" cx="1124.7" cy="270.7" rx="2" ry="1.4" style="stroke:#222"/>
<ellipse class="t" cx="1118.6" cy="274.5" rx="3.8" ry="2.9" style="stroke:#222"/>
<ellipse class="t" cx="1118.2" cy="279.2" rx="2" ry="1.3" style="stroke:#222"/>
<ellipse class="t" cx="1105.9" cy="282.6" rx="2.4" ry="1.7" style="stroke:#222"/>
<ellipse class="t" cx="1108.6" cy="287.5" rx="2.2" ry="1.4" style="stroke:#222"/>
<ellipse class="t" cx="1133.5" cy="287.9" rx="2" ry="1.3" style="stroke:#222"/>
<ellipse class="t" cx="1125.8" cy="294" rx="2.3" ry="1.6" style="stroke:#222"/>
<ellipse class="t" cx="1091.4" cy="277.9" rx="2.6" ry="1.9" style="stroke:#222"/>
<ellipse class="t" cx="1091.4" cy="277.9" rx="1.4" ry="1" />
<ellipse class="t" cx="1105.9" cy="282.6" rx="1.3" ry="0.9" />
<ellipse class="t" cx="1125.8" cy="294" rx="1.3" ry="0.9" />
<path class="t" d="M1099.5,275.6 l8.6,-4.9 q1.8,-0.6 2.8,0.6 q0.8,1.4 -0.8,2.6 l-8.4,4.8 M1098.6,277.8 q-1.6,-1.4 0.9,-2.2 l3.6,2 M1114.5,285.6 l9.8,-5.6 q1.8,-0.6 2.8,0.6 q0.8,1.4 -0.8,2.6 l-7.6,4.4 M1113.6,287.8 q-1.6,-1.4 0.9,-2.2 l3.6,2" style="stroke:#222"/>
<path class="ow" d="M1077.2,313.5 Q1076.6,310.6 1078.8,308.9 L1086,305.2 Q1087.4,304.6 1088.6,305.3 L1126.2,327.6 Q1127.4,328.4 1127,330.4 Q1126,332.8 1121.6,334.6 Q1118,335.7 1114.7,335.3 Q1112,335 1109.5,333.6 L1087.2,319.6 Q1085.6,318.4 1083.6,318.8 Q1080.4,319.6 1078.6,317.8 Q1077.4,316.2 1077.2,313.5 Z" style="stroke-width:1.4"/>
<path class="t" d="M1079.4,314.5 Q1079,311.4 1081,310 L1087.4,306.8 M1081,316.5 L1112,333 Q1117,334.4 1122,331.6 Q1125,329.6 1124.6,327.8" style="stroke:#333"/>
<path class="t" d="M1083,315.5 L1111.5,331" style="stroke-width:1.3;stroke:#555;stroke-dasharray:0.8 0.8"/>
<ellipse class="m" cx="1084.9" cy="312.4" rx="4" ry="2.9" />
<ellipse class="m" cx="1099.4" cy="316.6" rx="2.6" ry="1.8" />
<ellipse class="m" cx="1101.8" cy="321.9" rx="2.6" ry="1.8" />
<ellipse class="m" cx="1120.1" cy="328.1" rx="2.8" ry="1.9" />
<ellipse class="t" cx="1099.4" cy="316.6" rx="1.2" ry="0.8" />
<ellipse class="t" cx="1101.8" cy="321.9" rx="1.2" ry="0.8" />
<path class="mw" d="M1362.2,416.5 v4.8 q0.2,2.2 3.2,2.3 q3,-0.1 3.3,-2.3 v-5 Z"/>
<path class="ow" d="M1329.1,396.4 Q1328.6,394.4 1330.6,393.2 L1335.4,390.2 Q1336.4,389.6 1337.6,390.1 L1339.8,391 L1355.4,382 Q1357.4,380.8 1359.4,382 L1394.2,400.6 Q1395.6,401.6 1395,404.3 L1377.3,414.4 L1374.3,412.9 L1370.5,415.9 Q1366,418.2 1360.5,415.9 L1330.4,399 Z" style="stroke-width:1.4"/>
<path class="m" d="M1339.8,391 L1376.6,413.6" />
<ellipse class="t" cx="1336.8" cy="393.7" rx="2.4" ry="1.7" style="stroke:#222"/>
<ellipse class="t" cx="1353.6" cy="392.6" rx="2.1" ry="1.5" style="stroke:#222"/>
<ellipse class="t" cx="1376.2" cy="401" rx="3.9" ry="3" style="stroke:#222"/>
<ellipse class="t" cx="1368.2" cy="401.4" rx="2.1" ry="1.3" style="stroke:#222"/>
<ellipse class="t" cx="1382.3" cy="397.6" rx="2" ry="1.5" style="stroke:#222"/>
<ellipse class="t" cx="1385.4" cy="406" rx="2.2" ry="1.5" style="stroke:#222"/>
<ellipse class="t" cx="1356.7" cy="404.9" rx="2.5" ry="1.8" style="stroke:#222"/>
<ellipse class="t" cx="1348.3" cy="403.7" rx="2.1" ry="1.5" style="stroke:#222"/>
<ellipse class="t" cx="1365.6" cy="414.4" rx="3.3" ry="2.1" style="stroke:#222"/>
<ellipse class="t" cx="1336.8" cy="393.7" rx="1.2" ry="0.8" />
<ellipse class="t" cx="1356.7" cy="404.9" rx="1.3" ry="0.9" />
<path class="t" d="M1354.5,400.8 l7,-4 q1.8,-0.6 2.8,0.6 q0.8,1.4 -0.8,2.6 l-6.8,3.9 M1349.5,400.4 q-0.6,-1.8 2,-2.2 l3.8,2.2 M1371.5,410.2 l7.4,-4.3 q1.8,-0.6 2.8,0.6 q0.8,1.4 -0.8,2.6 l-6,3.5 M1365.5,409.6 q-0.6,-1.8 2,-2.2 l3.8,2.2" style="stroke:#222"/>
<path class="ow" d="M1325.3,444.2 Q1324.8,441.8 1326.8,440.4 L1332.2,436.8 Q1333.3,436.1 1334.6,436.9 L1371.2,459.2 L1372.2,458.6 Q1373.6,458.8 1373.6,460.5 L1373.1,463 Q1372.6,464.2 1370.5,464.9 L1366,467.4 L1365.6,469.2 Q1364,470.6 1362.4,470.3 L1358.4,469.2 Q1357,468.4 1357,467 L1355.9,464.9 L1328.6,448.8 Q1325.8,447 1325.3,444.2 Z" style="stroke-width:1.4"/>
<path class="t" d="M1327.2,444.6 Q1327,442.4 1328.6,441.4 L1333.4,438.4 M1327.6,446 L1356.5,463" style="stroke:#333"/>
<path class="t" d="M1329,446 L1356,461.8" style="stroke-width:1.3;stroke:#555;stroke-dasharray:0.8 0.8"/>
<ellipse class="m" cx="1362.8" cy="463" rx="4.4" ry="3" />
<ellipse class="t" cx="1362.8" cy="463.6" rx="3.2" ry="2" />
<ellipse class="m" cx="1334.5" cy="441.9" rx="2.2" ry="1.5" />
<ellipse class="m" cx="1346" cy="452.3" rx="2.5" ry="1.8" />
<ellipse class="m" cx="1354.4" cy="453.8" rx="2.4" ry="1.7" />
<ellipse class="t" cx="1346" cy="452.3" rx="1.2" ry="0.8" />
<ellipse class="t" cx="1354.4" cy="453.8" rx="1.2" ry="0.8" />
<path class="ow" d="M1097.4,425.2 L1121.5,410.2 Q1124.8,408.3 1127.2,410.6 L1128.3,412.5 L1368.2,551.4 L1384.5,546.3 L1393.7,550.9 L1400.8,553.5 Q1403.5,553.4 1405.4,556 Q1405.8,558.4 1404.9,559.6 L1364.1,583.1 L1364.1,581 L1362,582 L1351.8,587.1 Q1348.6,588.4 1345.7,588.2 Q1342.6,588 1339.6,586.6 Q1300,569 1256.4,545 Q1220,524.5 1191.5,505.8 Q1160,486.5 1135.3,470.8 Q1110,454.5 1087.4,439.6 Q1085.2,438 1085.3,435 Q1085.5,432.6 1087.6,431.2 Z" style="stroke-width:1.9"/>
<path class="m" d="M1088.2,434.6 Q1110,450.4 1135.3,466.8 Q1160,482.6 1191.5,502 Q1220,520 1256.4,540.4 Q1300,564.5 1341.4,583.4 Q1345.5,584.8 1350,583.2"/>
<path class="m" d="M1125.5,416 L1366.4,555.4" />
<path class="t" d="M1127.2,413.6 L1367.4,552.6" />
<path class="m" d="M1136.7,445.9 L1329.4,558.6" />
<path class="m" d="M1100.3,425.6 L1122.7,413.2 L1153.6,435.7 L1136.7,445.5 Z" />
<path class="t" d="M1100.3,426.2 L1136.7,446.2" style="stroke-width:2;stroke:#444;stroke-dasharray:0.8 0.6"/>
<path class="t" d="M1123.5,414.6 L1152,434.2" style="stroke-width:1.4;stroke:#666;stroke-dasharray:0.8 0.8"/>
<path class="m" d="M1088.6,433.2 Q1089.4,430.8 1092,429.6 L1098.6,428 L1135.3,446.9 L1127.5,451.2 Q1123.5,452.8 1119.5,451 L1092,436.4"/>
<ellipse class="t" cx="1116.1" cy="423.8" rx="3" ry="2.25" style="stroke:#222"/>
<ellipse class="t" cx="1123.4" cy="432.6" rx="3" ry="2.25" style="stroke:#222"/>
<ellipse class="m" cx="1130.4" cy="424.5" rx="2.6" ry="2" />
<ellipse class="t" cx="1130.4" cy="424.5" rx="1.3" ry="1" />
<ellipse class="m" cx="1134.6" cy="439.2" rx="2.6" ry="2" />
<ellipse class="t" cx="1134.6" cy="439.2" rx="1.3" ry="1" />
<ellipse class="m" cx="1131.1" cy="432.9" rx="1.4" ry="1.6" />
<path class="m" d="M1329.4,558.6 L1349.8,548.4 L1381.4,564.7 L1362,575.9 Z" />
<path class="t" d="M1329.4,558.8 L1362,576.4" style="stroke-width:2;stroke:#444;stroke-dasharray:0.8 0.6"/>
<path class="t" d="M1349.8,548.8 L1381.4,565.2" style="stroke-width:1.4;stroke:#666;stroke-dasharray:0.8 0.8"/>
<path class="t" d="M1362,577.4 L1402.9,555" style="stroke-width:2;stroke:#444;stroke-dasharray:0.8 0.6"/>
<path class="m" d="M1372.5,560 L1388,551.5" />
<path class="m" d="M1329.4,559.8 L1322.6,562 Q1320,563.4 1320.4,565.6 L1343.5,580.6 M1343.5,582.8 L1348,584"/>
<ellipse class="t" cx="1354.9" cy="565.7" rx="3.5" ry="2.625" style="stroke:#222"/>
<ellipse class="t" cx="1369.7" cy="569.3" rx="3.5" ry="2.625" style="stroke:#222"/>
<ellipse class="m" cx="1338.6" cy="551.4" rx="2.7" ry="2" />
<ellipse class="t" cx="1338.6" cy="551.4" rx="1.3" ry="1" />
<ellipse class="m" cx="1342.7" cy="559.1" rx="2.7" ry="2" />
<ellipse class="t" cx="1342.7" cy="559.1" rx="1.3" ry="1" />
<ellipse class="m" cx="1367.1" cy="561.6" rx="2.7" ry="2" />
<ellipse class="t" cx="1367.1" cy="561.6" rx="1.3" ry="1" />
<ellipse class="m" cx="1371.2" cy="553.5" rx="2.7" ry="2" />
<ellipse class="t" cx="1371.2" cy="553.5" rx="1.3" ry="1" />
<path class="t" d="M1158.5,447 Q1157.1,446.2 1158.5,445.4 L1161.3,443.5 Q1162.7,442.7 1164.1,443.5 L1178.8,451.7 Q1180.2,452.5 1178.8,453.3 L1176,455.2 Q1174.6,456 1173.2,455.2 Z" style="stroke:#222"/>
<path class="t" d="M1150.8,451.9 Q1149.4,451.1 1150.8,450.3 L1152.9,449.1 Q1154.3,448.3 1155.7,449.1 L1169.7,457.3 Q1171.1,458.1 1169.7,458.9 L1167.6,460.1 Q1166.2,460.9 1164.8,460.1 Z" style="stroke:#222"/>
<path class="t" d="M1173.9,464.6 Q1172.5,463.8 1173.9,463 L1184.4,456.8 Q1185.8,456 1187.2,456.8 L1211.8,470.7 Q1213.2,471.5 1211.8,472.4 L1201.3,479 Q1199.9,479.9 1198.5,479.1 Z" style="stroke:#222"/>
<path class="t" d="M1215.3,479.3 Q1213.9,478.5 1215.3,477.7 L1218.1,476.1 Q1219.5,475.3 1220.9,476.1 L1244.1,489.6 Q1245.5,490.4 1244.2,491.3 L1241.9,493 Q1240.6,493.9 1239.2,493.1 Z" style="stroke:#222"/>
<path class="t" d="M1252.5,500.3 Q1251.1,499.5 1252.5,498.7 L1255.3,497.1 Q1256.7,496.3 1258.1,497.1 L1280.6,510 Q1282,510.8 1280.6,511.6 L1277.7,513.5 Q1276.3,514.3 1274.9,513.5 Z" style="stroke:#222"/>
<path class="t" d="M1275.7,524.7 Q1274.3,523.9 1275.7,523.1 L1287.2,516 Q1288.6,515.2 1290,516 L1314.2,529.2 Q1315.6,530 1314.2,530.8 L1302.2,538.4 Q1300.8,539.2 1299.4,538.4 Z" style="stroke:#222"/>
<path class="t" d="M1316,538.5 Q1314.6,537.7 1315.9,536.8 L1318.9,534.5 Q1320.2,533.6 1321.6,534.4 L1337.2,543.5 Q1338.6,544.3 1337.3,545.2 L1334.8,547 Q1333.5,547.9 1332.1,547.1 Z" style="stroke:#222"/>
<path class="t" d="M1308.3,543 Q1306.9,542.2 1308.3,541.4 L1309.6,540.5 Q1311,539.7 1312.4,540.5 L1327,548.6 Q1328.4,549.4 1327.1,550.3 L1325.6,551.5 Q1324.3,552.4 1322.9,551.6 Z" style="stroke:#222"/>
<ellipse class="ow" cx="1241.3" cy="498.4" rx="4.4" ry="3.4" />
<ellipse class="t" cx="1241.6" cy="498.9" rx="2.6" ry="2" />
<path class="m" d="M1166.2,437.1 L1166.8,440.7" style="stroke-width:1.6;stroke:#555"/>
<path class="m" d="M1196.4,454.6 L1197,458.2" style="stroke-width:1.6;stroke:#555"/>
<path class="m" d="M1235,477.8 L1235.6,481.4" style="stroke-width:1.6;stroke:#555"/>
<path class="m" d="M1273.5,499.8 L1274.1,503.4" style="stroke-width:1.6;stroke:#555"/>
<path class="m" d="M1311.5,521.8 L1312.1,525.4" style="stroke-width:1.6;stroke:#555"/>
<path class="m" d="M1342,539.4 L1342.6,543" style="stroke-width:1.6;stroke:#555"/>
<path class="t" d="M1095,442.6 L1117,457" style="stroke-width:1.4;stroke:#666;stroke-dasharray:0.8 0.8"/>
<path class="t" d="M1135.5,469 L1171,491.3" style="stroke-width:1.4;stroke:#666;stroke-dasharray:0.8 0.8"/>
<path class="t" d="M1191,503.6 L1228,526" style="stroke-width:1.4;stroke:#666;stroke-dasharray:0.8 0.8"/>
<path class="t" d="M1247,537 L1282,556" style="stroke-width:1.4;stroke:#666;stroke-dasharray:0.8 0.8"/>
<path class="t" d="M1300,565.5 L1334,581.5" style="stroke-width:1.4;stroke:#666;stroke-dasharray:0.8 0.8"/>
<path class="l" d="M1261.2,195.3 L1305.5,176.5" style="stroke-width:1.25"/>
<circle cx="1261.2" cy="195.3" r="3.1" fill="#111"/>
<path class="l" d="M1142.7,274.9 L1185.4,260.6" style="stroke-width:1.25"/>
<circle cx="1142.7" cy="274.9" r="3.1" fill="#111"/>
<path class="l" d="M1125.1,336.1 L1170,342" style="stroke-width:1.25"/>
<circle cx="1125.1" cy="336.1" r="3.1" fill="#111"/>
<path class="l" d="M1383.5,389.9 L1427.6,371.4" style="stroke-width:1.25"/>
<circle cx="1383.5" cy="389.9" r="3.1" fill="#111"/>
<path class="l" d="M1370.5,468 L1422,479.5" style="stroke-width:1.25"/>
<circle cx="1370.5" cy="468" r="3.1" fill="#111"/>
<path class="l" d="M1389.6,555.4 L1434.6,536.4" style="stroke-width:1.25"/>
<circle cx="1389.6" cy="555.4" r="3.1" fill="#111"/>
<text x="1315.9" y="174.6" font-size="17.1">2-3</text>
<text x="1198" y="265" font-size="17.1">2-115</text>
<text x="1178.4" y="345.3" font-size="17.1">2-116</text>
<text x="1438.3" y="369.3" font-size="17.1">2-117</text>
<text x="1428.2" y="487.5" font-size="17.1">2-118</text>
<text x="1443.9" y="534.6" font-size="17.1">2-4</text>
<path class="ow" d="M1081.7,682.6 L1214.6,606 L1427.6,728.7 L1427.6,1228 L1294.8,1303.6 L1081.7,1181.2 Z" style="stroke-width:1.7"/>
<path class="m" d="M1081.7,682.6 L1294.8,805 L1427.6,728.7" />
<path class="m" d="M1294.8,805 L1294.8,1303.6" />
<path class="k" d="M1081.7,1181.2 L1294.8,1303.6" />
<path class="m" d="M1081.7,1171.4 L1294.8,1293.9" />
<path class="m" d="M1091.5,940.2 L1091.5,702.8 L1285,814.4 L1285,1052.2 L1091.5,940.2" />
<path class="m" d="M1211.4,775 L1211.4,872" />
<path class="m" d="M1091.5,940.2 L1211.4,872 L1283.8,912.6" />
<path class="m" d="M1081.7,949.8 L1294.8,1072.6" />
<path class="m" d="M1081.7,963.4 L1294.8,1086.2" />
<path class="m" d="M1183.7,1031 L1091.5,977.6 L1091.5,1160.3 L1183.7,1212.9" />
<path class="m" d="M1194.5,1036.8 L1285,1088.8 L1285,1273 L1194.5,1219.8" />
<path class="m" d="M1183.7,1031 L1183.7,1212.9" />
<path class="m" d="M1194.5,1036.8 L1194.5,1219.8" />
<path class="t" d="M1183.7,1031 L1194.5,1036.8" />
<path class="t" d="M1183.7,1212.9 L1194.5,1219.8" />
<path class="m" d="M1091.5,1160.3 L1183.7,1108.9" />
<path class="t" d="M1128.3,1000.2 L1128.3,1037.4" />
<path class="m" d="M1207.4,1047.6 L1207.4,1187 L1284.5,1142.5" />
<path class="m" d="M1207.4,1176.1 L1279.6,1135.6" />
<path class="m" d="M1194.5,1219.6 L1284.5,1168.2" />
<ellipse class="t" cx="1102.1" cy="679.1" rx="2.3" ry="1.6" style="stroke:#222"/>
<ellipse class="t" cx="1105.6" cy="686.1" rx="2.3" ry="1.6" style="stroke:#222"/>
<ellipse class="t" cx="1117.1" cy="688" rx="2.3" ry="1.6" style="stroke:#222"/>
<ellipse class="t" cx="1284.6" cy="778.8" rx="2.3" ry="1.6" style="stroke:#222"/>
<ellipse class="t" cx="1288.3" cy="786.3" rx="2.3" ry="1.6" style="stroke:#222"/>
<ellipse class="t" cx="1299.3" cy="787.9" rx="2.3" ry="1.6" style="stroke:#222"/>
<path class="ow" style="stroke-width:1.4" d="M1256.1,976.4 L1262.2,971.1 L1266.6,973.9 L1270.6,972.2 Q1273,972.4 1273.3,974.1 L1273.7,978.7 L1262.2,985.6 L1260.7,984.5 L1260.7,981.8 L1256.1,979.5 Z"/>
<path class="m" style="stroke-width:1.3" d="M1256.1,976.4 L1261,977.4 L1260.7,984.5 M1261,977.4 L1270.6,972.2"/>
<path class="m" d="M1263.6,979.6 l3.2,-1.8 l0.4,3.4 l-3.2,1.8 Z M1268.8,976.6 l2.6,1.6 l1.2,-0.6"/>
<path class="t" d="M1274.1,982.2 L1283.6,987.5" />
<path class="c" d="M929.2,760.6 L1129.7,891.5 L1230.2,835.8 L1282.4,862.6" />
<path class="c" d="M867.3,879.2 L894.1,865.4 L1064,971.8 L1093.7,954.7" />
<path class="c" d="M952,976.5 L998,954 L1244,1098 L1287.5,1074.3" />
<path class="c" d="M891.6,1174.4 L1128.3,1037.7" />
<path class="c" d="M777,1405 L1247.9,1134.4 L1210.4,1111.9" />
<path class="c" d="M1040,1298.2 L1299.3,1149.4 L1263.7,1125.7 L1283.5,1114.8" />
<path class="c" d="M1087.5,1198.9 L1087.5,1383.6" />
<path class="c" d="M1321.7,1303.7 L1321.7,1451.5" />
<path class="c" d="M1117.7,500 L1117.7,661" />
<path class="c" d="M1299.3,616 L1299.3,771.5" />
<path class="c" d="M538.5,1274.5 L719.5,1379" />
<path class="t" d="M1058,1195.6 L1081.6,1183.8" />
<path class="t" d="M1261.8,1305.6 L1288.4,1293.8" />
<path class="l" d="M1256.8,972.6 L1229.1,965.6" style="stroke-width:1.25"/>
<circle cx="1256.8" cy="972.6" r="2.6" fill="#111"/>
<text x="1185.2" y="972" font-size="19.43">2-49</text>
<path class="ow" d="M823.5,879.6 Q823.2,876.4 825.9,875 Q828.4,873.6 830.8,873.8 L836.1,875 L842.2,880.3 L871.8,897.3 Q872.8,898.6 872.2,900.1 Q871.2,902 868.9,903 Q866.4,904.4 864.1,904.6 Q861.4,904.8 859.2,904.2 L842.2,894.1 Q840.6,892 839.7,890 Q838.4,887.6 835.7,886.8 L827.6,885.9 Q824.6,884.8 823.5,879.6 Z" style="stroke-width:1.4"/>
<path class="t" d="M825.4,880.8 Q826.6,883.6 829.4,884 L836.4,884.8 Q839.4,885.8 840.8,888.4 Q841.8,890.6 843.4,892.4 L860,902.4 Q864,903.4 868,901.6 M838.6,880.4 L841.4,885 M840.8,879.4 L843.6,884" style="stroke:#333"/>
<ellipse class="m" cx="830" cy="878.6" rx="4" ry="2.9" />
<ellipse class="t" cx="830.4" cy="879.2" rx="2.6" ry="1.8" />
<ellipse class="m" cx="844.6" cy="885.1" rx="2.1" ry="1.5" />
<ellipse class="m" cx="848.6" cy="889.2" rx="1" ry="0.8" />
<ellipse class="m" cx="864.1" cy="896.9" rx="2.4" ry="1.6" />
<path class="mw" d="M851.2,893.4 v-2.6 q0.2,-1.4 2.3,-1.4 q2.1,0 2.3,1.4 v2.8 q-0.2,1.4 -2.3,1.4 q-2.1,0 -2.3,-1.6 Z"/>
<ellipse class="t" cx="853.5" cy="890.8" rx="2.3" ry="1.3" style="stroke:#222"/>
<path class="mw" d="M818.6,904.8 q1.4,-1 2.9,0 v9.6 h-2.9 Z"/>
<path class="mw" d="M818.3,918 v3.4 q0.2,1.6 1.9,1.6 q1.7,0 1.9,-1.6 v-3.2 Z"/>
<path class="ow" d="M816.2,911.6 Q816,908.8 818.4,907.6 L823.5,906.2 L830,909.5 L832.4,906.2 Q833,905.4 834,906 L862.4,922.4 L862.8,929.7 L856.8,933.8 Q853.4,936 850.3,936.2 Q848,936.2 846.2,935 L834.1,927.3 Q831.8,925 830.8,922.4 Q829.6,919.4 826.8,918.4 L818.6,918.4 Q816.4,916.6 816.2,911.6 Z" style="stroke-width:1.4"/>
<path class="m" d="M830.2,911 L860.4,928.9 L862.6,927.6" />
<path class="t" d="M860.4,928.9 L856.8,933.8" />
<path class="t" d="M818.4,913 Q819,916.4 821,916.8 L827.4,916.8 Q830.6,917.8 832,920.8 Q833,923.4 835.2,925.4 L847,933.2 Q850,934.6 853.4,933" style="stroke:#333"/>
<ellipse class="m" cx="834.9" cy="918.4" rx="2.3" ry="1.6" />
<ellipse class="m" cx="854.3" cy="929.3" rx="2.4" ry="1.6" />
<path class="mw" d="M837,921.4 v-2.6 q0.2,-1.2 1.9,-1.2 q1.7,0 1.9,1.2 v2.8 q-0.2,1.2 -1.9,1.2 q-1.7,0 -1.9,-1.4 Z"/>
<ellipse class="t" cx="838.9" cy="922.6" rx="2.6" ry="1.6" style="stroke:#222"/>
<path class="t" d="M833,908.6 l0.4,2.6 M845.4,914.4 l0.4,2.8 M846.6,915 l0.4,2.8" style="stroke:#222"/>
<ellipse class="t" cx="824.6" cy="908.4" rx="2" ry="1.2" style="stroke:#222"/>
<g transform="translate(1.8 74.2)" >
<path class="mw" d="M818.3,918 v3.4 q0.2,1.6 1.9,1.6 q1.7,0 1.9,-1.6 v-3.2 Z"/>
<path class="ow" d="M816.2,911.6 Q816,908.8 818.4,907.6 L823.5,906.2 L830,909.5 L832.4,906.2 Q833,905.4 834,906 L862.4,922.4 L862.8,929.7 L856.8,933.8 Q853.4,936 850.3,936.2 Q848,936.2 846.2,935 L834.1,927.3 Q831.8,925 830.8,922.4 Q829.6,919.4 826.8,918.4 L818.6,918.4 Q816.4,916.6 816.2,911.6 Z" style="stroke-width:1.4"/>
<path class="m" d="M830.2,911 L860.4,928.9 L862.6,927.6" />
<path class="t" d="M860.4,928.9 L856.8,933.8" />
<path class="t" d="M818.4,913 Q819,916.4 821,916.8 L827.4,916.8 Q830.6,917.8 832,920.8 Q833,923.4 835.2,925.4 L847,933.2 Q850,934.6 853.4,933" style="stroke:#333"/>
<ellipse class="m" cx="834.9" cy="918.4" rx="2.3" ry="1.6" />
<ellipse class="m" cx="854.3" cy="929.3" rx="2.4" ry="1.6" />
<path class="mw" d="M837,921.4 v-2.6 q0.2,-1.2 1.9,-1.2 q1.7,0 1.9,1.2 v2.8 q-0.2,1.2 -1.9,1.2 q-1.7,0 -1.9,-1.4 Z"/>
<ellipse class="t" cx="838.9" cy="922.6" rx="2.6" ry="1.6" style="stroke:#222"/>
<path class="t" d="M833,908.6 l0.4,2.6 M845.4,914.4 l0.4,2.8 M846.6,915 l0.4,2.8" style="stroke:#222"/>
<ellipse class="m" cx="820.8" cy="910.6" rx="3.2" ry="2.4" />
<ellipse class="t" cx="820.8" cy="910.6" rx="1.6" ry="1.2" />
</g>
<path class="ow" d="M901.4,986.6 Q901,984.4 903,983 L907.6,980.4 Q909.3,979.5 910.8,980.6 L949.2,1002.3 L949.8,1004.9 L945.9,1009.5 Q943.6,1011 941.3,1011.2 Q938.4,1011.2 936,1009.9 Q934,1008.6 932.7,1006.9 Q931.6,1004.6 930.7,1002.9 Q929,1001.2 925.5,1001 L918.9,1000 L903.6,990.8 Q901.8,989.4 901.4,986.6 Z" style="stroke-width:1.4"/>
<path class="t" d="M903.2,987.6 L919.6,997.8 L926,998.8 Q930.4,999.2 932.2,1001.8 Q933.4,1004.6 935,1006.6 Q938,1009.4 942.6,1008.8" style="stroke:#333"/>
<ellipse class="m" cx="938.6" cy="1001.6" rx="4.4" ry="3.1" />
<ellipse class="t" cx="938.8" cy="1002.2" rx="3" ry="2" style="stroke:#222"/>
<ellipse class="t" cx="939" cy="1003" rx="3" ry="1.8" />
<ellipse class="m" cx="931.4" cy="995.7" rx="3" ry="2" />
<ellipse class="m" cx="923.5" cy="993.7" rx="0.9" ry="0.7" />
<path class="mw" d="M910,990 v-2.8 q0.2,-1.4 2.3,-1.4 q2.1,0 2.3,1.4 v3 q-0.2,1.4 -2.3,1.4 q-2.1,0 -2.3,-1.6 Z"/>
<ellipse class="t" cx="912.3" cy="987.2" rx="2.3" ry="1.3" style="stroke:#222"/>
<path class="t" d="M908.6,983.6 l1.6,1" style="stroke:#222"/>
<path class="mw" d="M929.2,1040.6 v3 q0.2,1.6 2.1,1.6 q1.9,0 2.1,-1.6 v-3 Z"/>
<path class="ow" d="M901.7,1006 Q902.2,1004.8 903.4,1005.4 L932.7,1022.7 L933.4,1026.7 L934.7,1028 L940.6,1032.6 L940,1035.9 L937.3,1038.5 L933.4,1040.8 L930.1,1040.5 L926.6,1039.4 Q925.2,1035.6 922.8,1033.3 Q920.4,1030.8 916.9,1030 L909,1029.3 L895.6,1021.4 Q893.8,1019.6 893.8,1017.4 Q893.8,1015.4 895.6,1014.4 L901.4,1012.2 Z" style="stroke-width:1.4"/>
<path class="m" d="M901.4,1012.6 L930.1,1028 L934.7,1028" />
<path class="t" d="M895.8,1018.4 L909.6,1026.8 L917.4,1027.6 Q921.6,1028.4 924.4,1031.4 Q926.4,1034 927.6,1037.2" style="stroke:#333"/>
<path class="mw" d="M929.6,1024.6 q1.6,-0.8 3,0 v11 q-1.4,1 -3,0 Z"/>
<ellipse class="m" cx="902.4" cy="1016.1" rx="2.4" ry="1.6" />
<ellipse class="m" cx="922.2" cy="1027.3" rx="2.5" ry="1.6" />
<path class="mw" d="M912.4,1022.2 v-2.6 q0.2,-1.2 1.9,-1.2 q1.7,0 1.9,1.2 v2.8 q-0.2,1.2 -1.9,1.2 q-1.7,0 -1.9,-1.4 Z"/>
<ellipse class="t" cx="914.3" cy="1023.6" rx="2.6" ry="1.5" style="stroke:#222"/>
<path class="t" d="M916.6,1014.6 l0.4,2.6 M917.8,1015.2 l0.4,2.6 M931,1022.4 l0.3,2" style="stroke:#222"/>
<ellipse class="t" cx="936.8" cy="1034.4" rx="1.6" ry="2" style="stroke:#222"/>
<g transform="translate(-4.9 44.5)" >
<path class="mw" d="M929.2,1040.6 v3 q0.2,1.6 2.1,1.6 q1.9,0 2.1,-1.6 v-3 Z"/>
<path class="ow" d="M901.7,1006 Q902.2,1004.8 903.4,1005.4 L932.7,1022.7 L933.4,1026.7 L934.7,1028 L940.6,1032.6 L940,1035.9 L937.3,1038.5 L933.4,1040.8 L930.1,1040.5 L926.6,1039.4 Q925.2,1035.6 922.8,1033.3 Q920.4,1030.8 916.9,1030 L909,1029.3 L895.6,1021.4 Q893.8,1019.6 893.8,1017.4 Q893.8,1015.4 895.6,1014.4 L901.4,1012.2 Z" style="stroke-width:1.4"/>
<path class="m" d="M901.4,1012.6 L930.1,1028 L934.7,1028" />
<path class="t" d="M895.8,1018.4 L909.6,1026.8 L917.4,1027.6 Q921.6,1028.4 924.4,1031.4 Q926.4,1034 927.6,1037.2" style="stroke:#333"/>
<path class="mw" d="M929.6,1024.6 q1.6,-0.8 3,0 v11 q-1.4,1 -3,0 Z"/>
<ellipse class="m" cx="902.4" cy="1016.1" rx="2.4" ry="1.6" />
<ellipse class="m" cx="922.2" cy="1027.3" rx="2.5" ry="1.6" />
<path class="mw" d="M912.4,1022.2 v-2.6 q0.2,-1.2 1.9,-1.2 q1.7,0 1.9,1.2 v2.8 q-0.2,1.2 -1.9,1.2 q-1.7,0 -1.9,-1.4 Z"/>
<ellipse class="t" cx="914.3" cy="1023.6" rx="2.6" ry="1.5" style="stroke:#222"/>
<path class="t" d="M916.6,1014.6 l0.4,2.6 M917.8,1015.2 l0.4,2.6 M931,1022.4 l0.3,2" style="stroke:#222"/>
<ellipse class="t" cx="936.8" cy="1034.4" rx="1.6" ry="2" style="stroke:#222"/>
</g>
<path class="tw" d="M745.3,1103.1 L753.1,1098.9 L878.7,1170.8 L871.1,1175.6 Z" style="stroke:#222;stroke-width:0.9"/>
<path class="tw" d="M888.1,1185.5 L896.4,1181 L1021.4,1253.4 L1013.2,1258.2 Z" style="stroke:#222;stroke-width:0.9"/>
<path class="mw" d="M1033,1193.4 q1.8,-1 3.5,0 v8.4 h-3.5 Z"/>
<path class="o" d="M1033,1192.2 L1065.9,1209.5 L1066.3,1219.4 Q1065.4,1221.4 1063.6,1221.7 L1055.6,1217.5 Q1054.2,1215 1053.3,1213.3 Q1052.8,1212.2 1052.1,1211.8 L1046.8,1212.5 Q1044.4,1211.8 1043.3,1210.2 L1042.6,1204.5 Q1041.6,1203.2 1039.9,1203 Q1037.6,1205.8 1034.2,1205.8 Q1029.4,1205.4 1028.4,1201 Q1028.6,1197.4 1031.6,1195.6 L1033,1194.8" style="stroke-width:1.4"/>
<path class="w" d="M1036.6,1194.2 L1065.9,1209.5 L1066.3,1219.4 L1063.6,1221.7 L1055.6,1217.5 L1052.1,1211.8 L1046.8,1212.5 L1043.3,1210.2 L1042.6,1204.5 L1039.9,1203 L1036.6,1201.6 Z"/>
<path class="o" d="M1033,1192.2 L1065.9,1209.5 L1066.3,1219.4 Q1065.4,1221.4 1063.6,1221.7 L1055.6,1217.5 Q1054.2,1215 1053.3,1213.3 Q1052.8,1212.2 1052.1,1211.8 L1046.8,1212.5 Q1044.4,1211.8 1043.3,1210.2 L1042.6,1204.5 Q1041.6,1203.2 1039.9,1203 Q1037.6,1205.8 1034.2,1205.8 Q1029.4,1205.4 1028.4,1201 Q1028.6,1197.4 1031.6,1195.6 L1033,1194.8" style="stroke-width:1.4"/>
<path class="mw" d="M1033,1193.4 q1.8,-1 3.5,0 v8.4 q-1.8,0.8 -3.5,0 Z"/>
<ellipse class="m" cx="1034.4" cy="1202.6" rx="4.4" ry="2.4" />
<path class="t" d="M1039.9,1201.2 Q1044,1200.6 1046,1203.4 L1046.4,1209.6 L1051.6,1209.4 L1052.1,1211.8 M1050.6,1206.8 L1063.2,1211.8 M1051.4,1205.6 L1064,1210.6 M1064,1210.6 L1064.2,1220.6" style="stroke:#222"/>
<ellipse class="t" cx="1060.2" cy="1216" rx="1.6" ry="1.3" style="stroke:#222"/>
<path class="t" d="M1047.9,1222.9 L1055.6,1218.6" />
<g transform="translate(1037.8 1229.2) rotate(-31.6)">
<path class="mw" d="M0,-3.1 L2.7,-2.635 L2.7,2.635 L0,3.1 Z"/>
<ellipse class="mw" cx="0" cy="0" rx="1.6" ry="3.1"/>
<path class="mw" d="M2.7,-1.4 L9.5,-1.4 L12.2,0 L9.5,1.4 L2.7,1.4 Z"/>
<path class="m" d="M4.1,-1.4 L5.3,1.4"/>
<path class="m" d="M6.3,-1.4 L7.5,1.4"/>
<path class="m" d="M8.6,-1.4 L9.8,1.4"/>
</g>
<path class="mw" d="M1250.6,1309.6 q2.2,-1 4.5,0 v9.4 h-4.5 Z"/>
<path class="w" d="M1234.2,1299 L1265.4,1314.8 L1265.6,1318.6 L1256.4,1324.4 L1250.2,1322.1 L1247.1,1316.8 L1244.4,1317.2 L1234.1,1311.4 Z"/>
<path class="o" d="M1234.2,1299.8 Q1234,1298 1236,1298.6 L1265.4,1314.8 L1265.6,1318.6 L1259.6,1322.1 Q1258.4,1324.2 1256.4,1324.4 Q1252.4,1324.4 1250.2,1322.1 Q1248,1320 1247.1,1316.8 L1244.4,1317.2 L1234.1,1311.4 Z" style="stroke-width:1.4"/>
<path class="m" d="M1236,1309.8 Q1240,1306.4 1244.6,1308.4 Q1247.6,1310 1248.8,1313.2 L1244.4,1317.2"/>
<path class="m" d="M1235.4,1300.6 L1241.3,1304 Q1242,1305 1241.3,1305.8 L1235.6,1302.8 M1235.6,1304.4 L1240.6,1307"/>
<path class="mw" d="M1250.6,1309.6 q2.2,-1 4.5,0 v9.4 q-2.2,1 -4.5,0 Z"/>
<ellipse class="m" cx="1252.6" cy="1320" rx="4.6" ry="2.4" />
<ellipse class="t" cx="1256.6" cy="1323" rx="1.2" ry="0.9" style="stroke:#222"/>
<path class="t" d="M1227,1317.7 L1234.3,1312.8" />
<g transform="translate(1216.9 1323.3) rotate(-29)">
<path class="mw" d="M0,-3.1 L2.6,-2.635 L2.6,2.635 L0,3.1 Z"/>
<ellipse class="mw" cx="0" cy="0" rx="1.6" ry="3.1"/>
<path class="mw" d="M2.6,-1.4 L9.2,-1.4 L11.8,0 L9.2,1.4 L2.6,1.4 Z"/>
<path class="m" d="M3.9,-1.4 L5.1,1.4"/>
<path class="m" d="M6.1,-1.4 L7.3,1.4"/>
<path class="m" d="M8.3,-1.4 L9.5,1.4"/>
</g>
<path class="l" d="M836.5,874.8 L817,838" style="stroke-width:1.25"/>
<circle cx="836.5" cy="874.8" r="3" fill="#111"/>
<path class="l" d="M814.4,915.6 L773.5,895.5" style="stroke-width:1.25"/>
<circle cx="814.4" cy="915.6" r="3" fill="#111"/>
<path class="l" d="M824.9,981.9 L814.4,957.4" style="stroke-width:1.25"/>
<circle cx="824.9" cy="981.9" r="3" fill="#111"/>
<path class="l" d="M949.9,1007.1 L994.5,1023.2" style="stroke-width:1.25"/>
<circle cx="949.9" cy="1007.1" r="3" fill="#111"/>
<path class="l" d="M943.2,1034.4 L988.5,1051.6" style="stroke-width:1.25"/>
<circle cx="943.2" cy="1034.4" r="3" fill="#111"/>
<path class="l" d="M933.8,1082.4 L961,1091.3" style="stroke-width:1.25"/>
<circle cx="933.8" cy="1082.4" r="3" fill="#111"/>
<path class="l" d="M1030.2,1189.7 L1022.6,1170.8" style="stroke-width:1.25"/>
<circle cx="1030.2" cy="1189.7" r="3" fill="#111"/>
<path class="l" d="M1266.5,1320 L1271.5,1342" style="stroke-width:1.25"/>
<circle cx="1266.5" cy="1320" r="3" fill="#111"/>
<path class="l" d="M822.5,1148.4 L855.1,1223.2 L924.2,1207.9" style="stroke-width:1.7"/>
<circle cx="822.5" cy="1148.4" r="3.1" fill="#111"/>
<circle cx="924.2" cy="1207.9" r="3.1" fill="#111"/>
<text x="787.7" y="833" font-size="16.9">2-112</text>
<text x="742.2" y="888.1" font-size="16.9">2-111</text>
<text x="772.1" y="951.3" font-size="16.9">2-105</text>
<text x="1017.6" y="1045.7" font-size="16.9">2-114</text>
<text x="1010.9" y="1070.2" font-size="16.9">2-113</text>
<text x="972.1" y="1098.6" font-size="16.9">2-106</text>
<text x="836.6" y="1243.4" font-size="16.9">3-45</text>
<text x="989.9" y="1167.9" font-size="16.9">2-107</text>
<text x="1242.1" y="1360.9" font-size="16.9">2-108</text>
<path class="ow" d="M418.9,1309.5 L472.1,1278.5 L479.1,1281 L479.1,1285.5 L486,1290.5 L531.6,1262 L538.6,1265.8 L538.6,1272.2 L533.5,1275.3 L533.5,1295.6 L538.6,1298.8 L538.6,1304.5 L533.5,1308.3 L533.5,1336.2 L525.3,1343.8 L525.3,1361.5 L527.2,1364 L527.2,1376.7 L525.3,1379.2 L524.7,1393.2 L517.7,1405.8 L521.5,1409.6 L517.7,1418.5 L520.2,1429.9 L517.7,1435 L501.2,1443.9 L496.2,1441.3 L483.5,1447.7 L483.5,1452.8 L469.6,1457.8 L468.3,1460.4 L454.3,1465.4 L440.4,1473 L430.3,1478.1 L430.3,1486.9 L422.7,1489.5 L418.9,1488.2 Z" style="stroke-width:1.55"/>
<path class="t" d="M421.6,1312.6 L421.6,1488.4" style="stroke:#111;stroke-width:0.9"/>
<path class="t" d="M424.4,1314 L424.4,1486" style="stroke:#111;stroke-width:0.9"/>
<path class="t" d="M427.2,1315.5 L427.2,1480" style="stroke:#111;stroke-width:0.9"/>
<path class="t" d="M418.9,1313.6 L427.6,1312.6 L427.6,1309" style="stroke:#111;stroke-width:0.9"/>
<path class="t" d="M427.6,1313.6 L470,1288.9" style="stroke:#111;stroke-width:0.95"/>
<path class="t" d="M484,1294.6 L531,1267.2" style="stroke:#111;stroke-width:0.95"/>
<path class="t" d="M486,1296.8 L531,1270.6" style="stroke:#111;stroke-width:0.95"/>
<path class="t" d="M442.5,1309 L476,1289.5" style="stroke:#111;stroke-width:0.95"/>
<path class="t" d="M442.3,1300.6 L442.3,1320.6" style="stroke:#111;stroke-width:0.9"/>
<path class="t" d="M447.4,1298.2 L447.4,1322.8" style="stroke:#111;stroke-width:0.9"/>
<path class="t" d="M447.4,1322.8 L486,1300.3" style="stroke:#111;stroke-width:0.95"/>
<path class="t" d="M427.6,1331 L531,1270.7" style="stroke:#111;stroke-width:0.95"/>
<path class="t" d="M427.6,1335.5 L531,1275.2" style="stroke:#111;stroke-width:0.95"/>
<path class="t" d="M427.6,1346 L531,1285.7" style="stroke:#111;stroke-width:0.95"/>
<path class="t" d="M427.6,1350.5 L531,1290.2" style="stroke:#111;stroke-width:0.95"/>
<path class="t" d="M531,1268 L531,1338" style="stroke:#111;stroke-width:0.9"/>
<path class="t" d="M526.5,1270.5 L526.5,1287.5" style="stroke:#111;stroke-width:0.9"/>
<path class="t" d="M533.5,1278 L524,1283.6" style="stroke:#111;stroke-width:0.9"/>
<path class="m" d="M451.8,1348.8 L478.4,1333.6 L478.4,1353.9 L451.8,1369.1 Z" />
<path class="t" d="M456.2,1350 L478.4,1337.4" style="stroke:#111;stroke-width:0.9"/>
<path class="t" d="M456.2,1350 L456.2,1366.7" style="stroke:#111;stroke-width:0.9"/>
<path class="t" d="M456.2,1364.1 L478.4,1351.5" style="stroke:#111;stroke-width:0.9"/>
<path class="m" d="M492.4,1328.6 L519,1312.1 L519,1331.1 L492.4,1347.6 Z" />
<path class="t" d="M496.8,1329.8 L519,1315.9" style="stroke:#111;stroke-width:0.9"/>
<path class="t" d="M496.8,1329.8 L496.8,1345.2" style="stroke:#111;stroke-width:0.9"/>
<path class="t" d="M496.8,1342.6 L519,1328.7" style="stroke:#111;stroke-width:0.9"/>
<path class="t" d="M483,1336 L483,1356" style="stroke:#111;stroke-width:0.9"/>
<path class="t" d="M487.6,1333.4 L487.6,1353.6" style="stroke:#111;stroke-width:0.9"/>
<path class="t" d="M483,1344 L492.4,1338.6" style="stroke:#111;stroke-width:0.9"/>
<path class="m" d="M442.3,1353 L442.3,1418.5" />
<path class="m" d="M447.4,1350.2 L447.4,1416" />
<path class="m" d="M442.3,1353 L451.8,1347.5" />
<path class="t" d="M447.4,1383 L525,1337.8" style="stroke:#111;stroke-width:0.95"/>
<path class="t" d="M447.4,1388 L525,1342.8" style="stroke:#111;stroke-width:0.95"/>
<path class="t" d="M447.4,1372 L470,1358.8" style="stroke:#111;stroke-width:0.95"/>
<path class="t" d="M465.7,1397 L525,1362.4" style="stroke:#111;stroke-width:0.95"/>
<path class="t" d="M465.7,1401.5 L524.7,1367.1" style="stroke:#111;stroke-width:0.95"/>
<path class="t" d="M451.8,1418.5 L524,1376.4" style="stroke:#111;stroke-width:0.95"/>
<path class="t" d="M453.1,1432.4 L520,1393.4" style="stroke:#111;stroke-width:0.95"/>
<path class="t" d="M430,1429.9 L447,1420" style="stroke:#111;stroke-width:0.95"/>
<path class="t" d="M430,1440 L452,1427.2" style="stroke:#111;stroke-width:0.95"/>
<path class="t" d="M430,1398 L442,1391" style="stroke:#111;stroke-width:0.95"/>
<path class="t" d="M430,1393.5 L442,1386.5" style="stroke:#111;stroke-width:0.95"/>
<path class="t" d="M430,1382 L442,1375" style="stroke:#111;stroke-width:0.95"/>
<path class="t" d="M465.7,1397 L465.7,1424.6" style="stroke:#111;stroke-width:0.9"/>
<path class="m" d="M473.4,1364 L429,1455.3" />
<path class="m" d="M478,1363 L432.6,1456.6" />
<path class="t" d="M475.6,1363.4 L430.8,1456" />
<path class="mw" d="M468.6,1367.2 l4.4,-3.6 l5.6,0.4 l-0.4,4 l-6.8,4.4 Z"/>
<ellipse class="t" cx="472.6" cy="1365.6" rx="1.6" ry="1.2" style="stroke:#222"/>
<path class="t" d="M428.6,1364 L441,1356.6" style="stroke:#555;stroke-width:2.6;stroke-dasharray:1 0.7"/>
<path class="t" d="M428.6,1422.5 L441,1415.1" style="stroke:#555;stroke-width:2.6;stroke-dasharray:1 0.7"/>
<path class="mw" d="M475.5,1290.6 l3.4,-2 q1.6,-0.2 2,1 l3,1.8 q0.8,1.6 -0.6,2.4 l-2.4,1.2 q-1.4,0 -2,-1.2 l-3,-1.6 q-1,-0.8 -0.4,-1.6 Z"/>
<ellipse class="t" cx="481.5" cy="1292.2" rx="1.1" ry="1.5" style="stroke:#222"/>
<path class="mw" d="M492.6,1393 l3.4,-2 q1.6,-0.2 2,1 l3,1.8 q0.8,1.6 -0.6,2.4 l-2.4,1.2 q-1.4,0 -2,-1.2 l-3,-1.6 q-1,-0.8 -0.4,-1.6 Z"/>
<ellipse class="t" cx="498.6" cy="1394.6" rx="1.1" ry="1.5" style="stroke:#222"/>
<path class="mw" d="M469,1447.8 l3.4,-2 q1.6,-0.2 2,1 l3,1.8 q0.8,1.6 -0.6,2.4 l-2.4,1.2 q-1.4,0 -2,-1.2 l-3,-1.6 q-1,-0.8 -0.4,-1.6 Z"/>
<ellipse class="t" cx="475" cy="1449.4" rx="1.1" ry="1.5" style="stroke:#222"/>
<ellipse class="m" cx="533.4" cy="1271.8" rx="1.8" ry="1.6" />
<ellipse class="m" cx="529.6" cy="1333" rx="1.8" ry="1.6" />
<path class="mw" d="M496.2,1435 L508.8,1410.9 L517,1406.4 L517.7,1418.5 L520.2,1429.9 L517.7,1435 L501.2,1443.9 L496.2,1441.3 Z"/>
<path class="t" d="M496.2,1435 L501.4,1437.4 L501.2,1443.9 M501.4,1437.4 L511.6,1414.6 L517,1411.4 M511.6,1414.6 L511.6,1432.6 M506,1436.6 L514,1432.2 L514,1416" style="stroke:#222"/>
<ellipse class="t" cx="513.2" cy="1417" rx="1.5" ry="1.9" style="stroke:#222"/>
<path class="m" d="M440.4,1468 L440.4,1474" />
<path class="m" d="M454.3,1460.4 L454.3,1466.4" />
<path class="m" d="M468.3,1455.2 L468.3,1461.2" />
<path class="m" d="M483.2,1444.5 L483.2,1450.5" />
<path class="t" d="M459.6,1427.5 L459.6,1462" style="stroke:#111;stroke-width:0.9"/>
<path class="t" d="M464,1425 L464,1460" style="stroke:#111;stroke-width:0.9"/>
<path class="t" d="M454.3,1434 L454.3,1463" style="stroke:#111;stroke-width:0.9"/>
<path class="ow" d="M580.8,1410.2 L639.7,1375.3 L647.3,1379.1 L647.3,1384.2 L653.6,1387.4 L699.2,1358.9 L708.1,1362.7 L710,1366.5 L710,1399.4 L708.1,1401.3 L703,1400.7 L698.6,1405.7 L698.6,1415.9 L700.5,1426 L703,1428.6 L703,1466.6 L700.5,1469.1 L700.5,1474.2 L703.7,1476.7 L703.7,1490.6 L699.2,1495.7 L687.8,1513.4 L687.2,1521 L685.3,1522.3 L685.3,1533.7 L679,1536.3 L677.7,1540.1 L643.5,1557.8 L642.2,1564.1 L629.6,1569.2 L625.7,1566.7 L586.5,1588.2 L580.8,1585.7 Z" style="stroke-width:1.55"/>
<path class="t" d="M585.8,1413 L585.8,1586.6" style="stroke:#111;stroke-width:0.9"/>
<path class="t" d="M580.8,1410.2 L587,1413 L587,1418" style="stroke:#111;stroke-width:0.9"/>
<path class="t" d="M587,1413 L640,1381.7" style="stroke:#111;stroke-width:0.95"/>
<path class="t" d="M705.6,1364.6 L705.6,1399.6" style="stroke:#111;stroke-width:0.9"/>
<path class="t" d="M701.8,1364.6 L701.8,1400" style="stroke:#111;stroke-width:0.9"/>
<path class="t" d="M589,1427 L701.8,1360.3" style="stroke:#111;stroke-width:0.95"/>
<path class="t" d="M589,1432.4 L701.8,1365.7" style="stroke:#111;stroke-width:0.95"/>
<path class="t" d="M589,1436.4 L701.8,1369.7" style="stroke:#111;stroke-width:0.95"/>
<path class="t" d="M589,1441 L701.8,1374.3" style="stroke:#111;stroke-width:0.95"/>
<path class="t" d="M589,1446.3 L701.8,1379.6" style="stroke:#111;stroke-width:0.95"/>
<path class="t" d="M589,1449.6 L701.8,1382.9" style="stroke:#111;stroke-width:0.95"/>
<path class="t" d="M589,1427 L589,1449.6" style="stroke:#111;stroke-width:0.9"/>
<path class="t" d="M587,1420.4 L602,1422.6 L640,1400.2 M587,1418 L588.6,1427" style="stroke:#222"/>
<path class="t" d="M653.6,1391.4 L700,1364" style="stroke:#111;stroke-width:0.95"/>
<path class="t" d="M655,1387.6 L700,1361" style="stroke:#111;stroke-width:0.95"/>
<path class="t" d="M668.6,1380.2 L676,1375.8 L679.8,1377.6 L672.4,1382.2 Z" style="stroke:#222"/>
<path class="m" d="M619.4,1446.3 L650.5,1428.6 L650.5,1451.4 L619.4,1469.1 Z" />
<path class="t" d="M619.4,1463.7 L644.9,1449.2 L644.9,1432" style="stroke:#111;stroke-width:0.9"/>
<path class="t" d="M644.9,1449.2 L650.5,1451.4" style="stroke:#111;stroke-width:0.9"/>
<path class="m" d="M658.7,1423.5 L689.7,1405.7 L689.7,1428.6 L658.7,1446.3 Z" />
<path class="t" d="M658.7,1440.9 L684.1,1426.4 L684.1,1409.1" style="stroke:#111;stroke-width:0.9"/>
<path class="t" d="M684.1,1426.4 L689.7,1428.6" style="stroke:#111;stroke-width:0.9"/>
<path class="t" d="M595.3,1489.4 L700.5,1427.2" style="stroke:#111;stroke-width:0.95"/>
<path class="t" d="M599.1,1493.2 L700.5,1433.3" style="stroke:#111;stroke-width:0.95"/>
<path class="t" d="M599.1,1497 L697,1439.1" style="stroke:#111;stroke-width:0.95"/>
<path class="t" d="M586.5,1473 L619.4,1453.6" style="stroke:#111;stroke-width:0.95"/>
<path class="t" d="M586.5,1508.4 L627,1484.5" style="stroke:#111;stroke-width:0.95"/>
<path class="t" d="M586.5,1512.4 L627,1488.5" style="stroke:#111;stroke-width:0.95"/>
<path class="t" d="M586.5,1498 L597,1491.8" style="stroke:#111;stroke-width:0.95"/>
<path class="t" d="M595.3,1535 L695.4,1475.8" style="stroke:#111;stroke-width:0.95"/>
<path class="t" d="M599.1,1540 L696.7,1482.3" style="stroke:#111;stroke-width:0.95"/>
<path class="t" d="M599.1,1543.6 L690,1489.9" style="stroke:#111;stroke-width:0.95"/>
<path class="t" d="M586.5,1555.3 L684,1497.7" style="stroke:#111;stroke-width:0.95"/>
<path class="t" d="M586.5,1559.6 L680,1504.3" style="stroke:#111;stroke-width:0.95"/>
<path class="t" d="M586.5,1548 L597,1541.8" style="stroke:#111;stroke-width:0.95"/>
<path class="t" d="M586.5,1520 L640,1488.4" style="stroke:#111;stroke-width:0.95"/>
<path class="m" d="M595.3,1489.4 L597,1494.6 L599.1,1497 M595.3,1535 L597,1540.4 L599.1,1543.6"/>
<path class="m" d="M639,1502 L696.7,1467.9" style="stroke:#111;stroke-width:0.95"/>
<path class="m" d="M639,1510.9 L701.8,1473.8" style="stroke:#111;stroke-width:0.95"/>
<path class="m" d="M627,1502 L637.2,1486.8 L639.4,1488 L639,1502 L639,1510.9 L627,1517.2 Z" />
<path class="t" d="M627,1502 L639,1502" style="stroke:#111;stroke-width:0.9"/>
<path class="t" d="M696.7,1469.1 L696.7,1442 L700.5,1439.6" style="stroke:#111;stroke-width:0.9"/>
<path class="t" d="M692,1447.6 Q696.6,1445.4 696.7,1442" style="stroke:#222"/>
<path class="t" d="M690,1489.6 L697.6,1485.4 Q699.6,1485.6 699.6,1488 L699.2,1493" style="stroke:#222"/>
<path class="m" d="M687.8,1513.4 L695.6,1497.6" />
<path class="t" d="M689.6,1512.6 L697.6,1496.6" style="stroke:#111;stroke-width:0.9"/>
<path class="t" d="M594.4,1414.2 L602.4,1409.4" style="stroke:#555;stroke-width:3.2;stroke-dasharray:0.9 0.7"/>
<path class="t" d="M605.6,1407.6 L614,1402.6" style="stroke:#555;stroke-width:3.2;stroke-dasharray:0.9 0.7"/>
<path class="t" d="M594.4,1470 L602.4,1465.2" style="stroke:#555;stroke-width:3.2;stroke-dasharray:0.9 0.7"/>
<path class="t" d="M605.6,1463.4 L614,1458.4" style="stroke:#555;stroke-width:3.2;stroke-dasharray:0.9 0.7"/>
<path class="t" d="M594.4,1525.2 L602.4,1520.4" style="stroke:#555;stroke-width:3.2;stroke-dasharray:0.9 0.7"/>
<path class="t" d="M605.6,1518.6 L614,1513.6" style="stroke:#555;stroke-width:3.2;stroke-dasharray:0.9 0.7"/>
<path class="m" d="M627.6,1531.2 L627.6,1566" />
<path class="t" d="M631,1529.4 L631,1567.6" style="stroke:#111;stroke-width:0.9"/>
<path class="m" d="M641.6,1523 L641.6,1562" />
<path class="t" d="M643.4,1522 L643.4,1557.8" style="stroke:#111;stroke-width:0.9"/>
<path class="t" d="M631,1561 L641.6,1554.7" style="stroke:#111;stroke-width:0.95"/>
<ellipse class="t" cx="590.3" cy="1423.5" rx="1.7" ry="2" transform="rotate(20 590.3 1423.5)" style="stroke:#222"/>
<ellipse class="t" cx="589" cy="1487.5" rx="1.7" ry="2" transform="rotate(20 589 1487.5)" style="stroke:#222"/>
<ellipse class="t" cx="590.3" cy="1564.1" rx="1.7" ry="2" transform="rotate(20 590.3 1564.1)" style="stroke:#222"/>
<ellipse class="t" cx="639" cy="1462.1" rx="1.7" ry="2" transform="rotate(20 639 1462.1)" style="stroke:#222"/>
<ellipse class="t" cx="664.4" cy="1491.3" rx="1.7" ry="2" transform="rotate(20 664.4 1491.3)" style="stroke:#222"/>
<ellipse class="t" cx="648.6" cy="1390.5" rx="1.7" ry="2" transform="rotate(20 648.6 1390.5)" style="stroke:#222"/>
<ellipse class="t" cx="682.8" cy="1516" rx="1.7" ry="2" transform="rotate(20 682.8 1516)" style="stroke:#222"/>
<ellipse class="t" cx="696.7" cy="1429.2" rx="1.7" ry="2" transform="rotate(20 696.7 1429.2)" style="stroke:#222"/>
<rect class="t" x="581.8" y="1455" width="1.4" height="3.4" style="stroke:#222"/>
<rect class="t" x="581.8" y="1521" width="1.4" height="3.4" style="stroke:#222"/>
<rect class="t" x="581.8" y="1578" width="1.4" height="3.4" style="stroke:#222"/>
<path class="t" d="M643.5,1553.8 L677,1536" style="stroke:#111;stroke-width:0.95"/>
<path d="M603.1,1375.1 L551.6,1403.9 L497.7,1494.1 L497.7,1526.8" fill="none" stroke="#111" stroke-width="4.4" stroke-linejoin="round" stroke-linecap="round" transform="translate(1.4 0.8)"/>
<path d="M603.1,1375.1 L551.6,1403.9 L497.7,1494.1 L497.7,1526.8" fill="none" stroke="#fff" stroke-width="2" stroke-linejoin="round" stroke-linecap="round" transform="translate(1.4 0.8)"/>
<path d="M603.1,1375.1 L551.6,1403.9 L497.7,1494.1 L497.7,1526.8" fill="none" stroke="#777" stroke-width="0.6" stroke-linejoin="round" transform="translate(1.4 0.8)"/>
<path d="M742.2,1379 Q742,1375.4 745,1376.8 L756.6,1385.6 Q764.6,1391.6 766,1398.4 L766,1450 Q765.8,1453.6 764,1456.6 L753.6,1473.6 Q751.8,1476.2 748.6,1474.6 L735,1467 Q731.6,1464.6 733.4,1461.2 L741.4,1447 Q742.2,1445.6 742.2,1443.6 Z" fill="none" stroke="#111" stroke-width="5.2" stroke-linejoin="round"/>
<path d="M742.2,1379 Q742,1375.4 745,1376.8 L756.6,1385.6 Q764.6,1391.6 766,1398.4 L766,1450 Q765.8,1453.6 764,1456.6 L753.6,1473.6 Q751.8,1476.2 748.6,1474.6 L735,1467 Q731.6,1464.6 733.4,1461.2 L741.4,1447 Q742.2,1445.6 742.2,1443.6 Z" fill="none" stroke="#fff" stroke-width="2.6" stroke-linejoin="round"/>
<path d="M742.2,1379 Q742,1375.4 745,1376.8 L756.6,1385.6 Q764.6,1391.6 766,1398.4 L766,1450 Q765.8,1453.6 764,1456.6 L753.6,1473.6 Q751.8,1476.2 748.6,1474.6 L735,1467 Q731.6,1464.6 733.4,1461.2 L741.4,1447 Q742.2,1445.6 742.2,1443.6 Z" fill="none" stroke="#777" stroke-width="0.6" stroke-linejoin="round"/>
<path d="M588.6,1619 L614,1604.4 Q616.2,1603 616,1600.4 Q616,1597.8 618.8,1596.6 L627.9,1592.4 L657.4,1578.6 Q659.6,1577.8 661.4,1579 L668.4,1583.4 Q670.2,1584.8 669.4,1587 Q668.8,1589.4 666.4,1590.4 L643,1600.6 Q640.6,1601.6 640.4,1604.2 Q640.4,1607 637.8,1608.4 L601,1626.6 Q599,1627.6 597,1626.2 L588.6,1621.4 Q587,1620.2 588.6,1619 Z" fill="none" stroke="#111" stroke-width="4.2" stroke-linejoin="round"/>
<path d="M588.6,1619 L614,1604.4 Q616.2,1603 616,1600.4 Q616,1597.8 618.8,1596.6 L627.9,1592.4 L657.4,1578.6 Q659.6,1577.8 661.4,1579 L668.4,1583.4 Q670.2,1584.8 669.4,1587 Q668.8,1589.4 666.4,1590.4 L643,1600.6 Q640.6,1601.6 640.4,1604.2 Q640.4,1607 637.8,1608.4 L601,1626.6 Q599,1627.6 597,1626.2 L588.6,1621.4 Q587,1620.2 588.6,1619 Z" fill="none" stroke="#fff" stroke-width="1.8" stroke-linejoin="round"/>
<path d="M588.6,1619 L614,1604.4 Q616.2,1603 616,1600.4 Q616,1597.8 618.8,1596.6 L627.9,1592.4 L657.4,1578.6 Q659.6,1577.8 661.4,1579 L668.4,1583.4 Q670.2,1584.8 669.4,1587 Q668.8,1589.4 666.4,1590.4 L643,1600.6 Q640.6,1601.6 640.4,1604.2 Q640.4,1607 637.8,1608.4 L601,1626.6 Q599,1627.6 597,1626.2 L588.6,1621.4 Q587,1620.2 588.6,1619 Z" fill="none" stroke="#777" stroke-width="0.5" stroke-linejoin="round"/>
<g transform="translate(728.4 1385.6) rotate(-144.8)">
<path class="mw" d="M0,-3.2 L2.4,-2.72 L2.4,2.72 L0,3.2 Z"/>
<ellipse class="mw" cx="0" cy="0" rx="1.6" ry="3.2"/>
<path class="mw" d="M2.4,-1.3 L8.4,-1.3 L10.8,0 L8.4,1.3 L2.4,1.3 Z"/>
<path class="m" d="M3.6,-1.3 L4.8,1.3"/>
<path class="m" d="M5.6,-1.3 L6.8,1.3"/>
<path class="m" d="M7.6,-1.3 L8.8,1.3"/>
</g>
<path class="l" d="M462.4,1294.1 L442.3,1267.4" style="stroke-width:1.25"/>
<circle cx="462.4" cy="1294.1" r="3.1" fill="#111"/>
<path class="l" d="M497.7,1511.1 L467.9,1539.9" style="stroke-width:1.25"/>
<circle cx="497.7" cy="1511.1" r="3.1" fill="#111"/>
<path class="l" d="M755.5,1384.3 L764.4,1358.1" style="stroke-width:1.25"/>
<circle cx="755.5" cy="1384.3" r="3.1" fill="#111"/>
<path class="l" d="M692.5,1489.6 L720,1519.7" style="stroke-width:1.25"/>
<circle cx="692.5" cy="1489.6" r="3.1" fill="#111"/>
<path class="l" d="M639.2,1608.4 L658,1630" style="stroke-width:1.25"/>
<circle cx="639.2" cy="1608.4" r="3.1" fill="#111"/>
<text x="403.6" y="1260.9" font-size="16.9">2-145</text>
<text x="442.8" y="1556.3" font-size="16.9">2-142</text>
<text x="745.6" y="1352.4" font-size="16.9">2-143</text>
<text x="725.2" y="1532" font-size="16.9">2-146</text>
<text x="648.3" y="1645.2" font-size="16.9">2-144</text>
<path class="ow" d="M918.9,1350.4 L924.3,1348.2 L924.3,1344.2 L926.1,1342.9 L1003.3,1298.7 L1006.9,1300.4 L1034.6,1283.9 L1037.2,1285.3 L1037.2,1318.8 L921.2,1386.2 L918.9,1385.3 Z" style="stroke-width:1.4"/>
<path class="t" d="M921.6,1351.4 L921.6,1385.6" style="stroke:#222"/>
<path class="t" d="M921.6,1379 L1034.6,1314.3" style="stroke:#444;stroke-width:1.8;stroke-dasharray:0.9 0.7"/>
<path class="t" d="M1034.6,1286 L1034.6,1314.3 L1037.2,1316" style="stroke:#222"/>
<path class="t" d="M1006.9,1300.4 L1006.4,1303.6 L1030.5,1289.6" style="stroke:#222"/>
<path class="m" d="M1007,1302 L1034.6,1285.8" />
<path class="m" d="M926.1,1345.5 L1003.8,1302.2 L1006.4,1303.6 L1006.4,1311.4" />
<path class="t" d="M1003.8,1304.6 L1003.8,1311.6 L939.5,1349.6 L927.9,1349.1" style="stroke:#222"/>
<path class="t" d="M1006.4,1311.4 L939.5,1351.3 L927,1350.9 L926.4,1346" style="stroke:#222"/>
<path class="m" d="M926,1347.4 v-2.6 l2.2,-1.2 l1.2,0.6 v2.6"/>
<path class="t" d="M931.4,1362.5 L1008.7,1317.9 L1010.9,1316.1 L1010.9,1321.4 L932.3,1367" style="stroke:#222"/>
<path class="t" d="M932.3,1364.6 L1008.7,1320.5 L1008.7,1317.9" style="stroke:#222"/>
<path class="t" d="M922.4,1369.4 l7.6,-4.2 l0.4,5.6 l-7.4,4.2 M926,1365.6 l2.8,7.6 M924.4,1372.4 l6,-3" style="stroke:#222"/>
<path class="t" d="M1027,1315 l3.4,-1.8 l1.2,2.6 M1028.4,1313 l0.4,2.6" style="stroke:#222"/>
<ellipse class="t" cx="1028.6" cy="1289.4" rx="0.9" ry="1.4" style="stroke:#222"/>
<path class="d" d="M1048.9,1346.7 L1188.2,1346.7 L1188.2,1488.8 L1048.9,1488.8 Z" style="stroke-width:1.3;stroke-dasharray:9 6"/>
<path class="d" d="M1300.4,1414.1 L1439.4,1414.1 L1439.4,1555.4 L1300.4,1555.4 Z" style="stroke-width:1.3;stroke-dasharray:9 6"/>
<path class="ow" d="M1072.1,1396.5 L1091.6,1385.6 L1095.7,1387.8 L1127.9,1369.3 L1147.7,1380.5 L1147.7,1389.8 L1143.5,1396.8 L1120.9,1410.2 L1111,1405.7 L1091.6,1417.2 L1088.7,1414.3 L1088.2,1412.4 L1074.7,1406 L1074.5,1407.4 L1072.1,1406 Z" style="stroke-width:1.25"/>
<path class="m" d="M1072.1,1396.5 L1091.2,1407.9 L1109.7,1397.4" />
<path class="m" d="M1095.7,1387.8 L1115.2,1399.6 L1147.7,1380.5" />
<path class="t" d="M1109.7,1397.4 L1105.2,1394.2" style="stroke:#222"/>
<path class="t" d="M1077.2,1397.6 L1093.2,1389.4" style="stroke:#222;stroke-width:1.9;stroke-dasharray:0.8 0.5"/>
<path class="m" d="M1091.2,1405.6 L1107.2,1396.6" style="stroke-width:1.7"/>
<path class="t" d="M1092.6,1407.9 L1110.4,1398.2" style="stroke:#222"/>
<ellipse class="t" cx="1127.9" cy="1376.4" rx="1.8" ry="1.3" style="stroke:#222"/>
<ellipse class="t" cx="1109.1" cy="1387.2" rx="1.8" ry="1.3" style="stroke:#222"/>
<ellipse class="t" cx="1128.6" cy="1387.5" rx="1.8" ry="1.3" style="stroke:#222"/>
<ellipse class="t" cx="1087.7" cy="1399.6" rx="1.8" ry="1.3" style="stroke:#222"/>
<path class="ow" d="M1082.3,1432.6 L1082.3,1444 Q1083,1447.6 1089.5,1448 Q1096,1447.6 1096.7,1444 L1096.7,1432.6 Z" style="stroke-width:1.15"/>
<ellipse class="ow" cx="1089.5" cy="1432.6" rx="7.2" ry="4.2" style="stroke-width:1.15"/>
<ellipse class="t" cx="1089.6" cy="1433.4" rx="3.4" ry="1.8" style="stroke:#222"/>
<path class="ow" d="M1086.5,1433 L1086.5,1424 Q1086.8,1422 1089.6,1422 Q1092.5,1422 1092.8,1424 L1092.8,1433" style="stroke-width:1.3"/>
<path class="t" d="M1086.5,1425.6 q3.2,1.6 6.3,0" style="stroke:#333"/>
<path class="t" d="M1086.5,1427.8 q3.2,1.6 6.3,0" style="stroke:#333"/>
<path class="t" d="M1086.5,1430 q3.2,1.6 6.3,0" style="stroke:#333"/>
<path class="t" d="M1086.5,1432.2 q3.2,1.6 6.3,0" style="stroke:#333"/>
<g transform="translate(235 66.8)" >
<path class="ow" d="M1072.1,1396.5 L1091.6,1385.6 L1095.7,1387.8 L1127.9,1369.3 L1147.7,1380.5 L1147.7,1389.8 L1143.5,1396.8 L1120.9,1410.2 L1111,1405.7 L1091.6,1417.2 L1088.7,1414.3 L1088.2,1412.4 L1074.7,1406 L1074.5,1407.4 L1072.1,1406 Z" style="stroke-width:1.25"/>
<path class="m" d="M1072.1,1396.5 L1091.2,1407.9 L1109.7,1397.4" />
<path class="m" d="M1095.7,1387.8 L1115.2,1399.6 L1147.7,1380.5" />
<path class="t" d="M1109.7,1397.4 L1105.2,1394.2" style="stroke:#222"/>
<path class="t" d="M1077.2,1397.6 L1093.2,1389.4" style="stroke:#222;stroke-width:1.9;stroke-dasharray:0.8 0.5"/>
<path class="m" d="M1091.2,1405.6 L1107.2,1396.6" style="stroke-width:1.7"/>
<path class="t" d="M1092.6,1407.9 L1110.4,1398.2" style="stroke:#222"/>
<ellipse class="t" cx="1127.9" cy="1376.4" rx="1.8" ry="1.3" style="stroke:#222"/>
<ellipse class="t" cx="1109.1" cy="1387.2" rx="1.8" ry="1.3" style="stroke:#222"/>
<ellipse class="t" cx="1128.6" cy="1387.5" rx="1.8" ry="1.3" style="stroke:#222"/>
<ellipse class="t" cx="1087.7" cy="1399.6" rx="1.8" ry="1.3" style="stroke:#222"/>
<path class="ow" d="M1082.3,1432.6 L1082.3,1444 Q1083,1447.6 1089.5,1448 Q1096,1447.6 1096.7,1444 L1096.7,1432.6 Z" style="stroke-width:1.15"/>
<ellipse class="ow" cx="1089.5" cy="1432.6" rx="7.2" ry="4.2" style="stroke-width:1.15"/>
<ellipse class="t" cx="1089.6" cy="1433.4" rx="3.4" ry="1.8" style="stroke:#222"/>
<path class="ow" d="M1086.5,1433 L1086.5,1424 Q1086.8,1422 1089.6,1422 Q1092.5,1422 1092.8,1424 L1092.8,1433" style="stroke-width:1.3"/>
<path class="t" d="M1086.5,1425.6 q3.2,1.6 6.3,0" style="stroke:#333"/>
<path class="t" d="M1086.5,1427.8 q3.2,1.6 6.3,0" style="stroke:#333"/>
<path class="t" d="M1086.5,1430 q3.2,1.6 6.3,0" style="stroke:#333"/>
<path class="t" d="M1086.5,1432.2 q3.2,1.6 6.3,0" style="stroke:#333"/>
</g>
<path class="tw" d="M1121.5,1563.2 L1128.1,1559.5 L1131.5,1560.7 L1318.8,1666.8 L1312.2,1671.4 L1303.1,1667.6 L1129,1569.8 L1126.6,1566.6 Z" style="stroke:#333"/>
<path class="t" d="M1123.4,1563.6 l4.4,-2.6 l2.6,1.6 l-4.2,2.6 Z M1307.4,1667.6 l5,-3 l3.4,1.8 l-4.6,3.2 Z M1129,1567 q3,-1 6,-0.6 M1304.6,1660 q0.4,3.4 -0.6,6.6" style="stroke:#333"/>
<ellipse class="t" cx="1127" cy="1562.8" rx="1" ry="0.8" />
<ellipse class="t" cx="1312" cy="1667.4" rx="1.2" ry="0.9" />
<path class="ow" d="M861.9,1751.6 Q861.6,1750.4 863.2,1749.6 L959.4,1694 L964.4,1696.8 L963.7,1702.4 L966.4,1697 Q968,1693.6 970.4,1694.6 L1040.8,1735.4 L1040.1,1743.1 L1053.5,1750.2 Q1055.4,1749.4 1057,1750.6 Q1059.6,1752 1059.1,1754 L1057.7,1758.8 L969.6,1810.4 Q966.6,1812.2 963.4,1812 Q960.4,1811.8 958,1810 L861.9,1754.6 Z" style="stroke-width:1.6"/>
<path class="m" d="M862.6,1751.4 L956.6,1804.4 Q963,1807.6 969.3,1803.6 L1058.4,1753.4"/>
<path class="t" style="stroke:#555;stroke-width:1.7;stroke-dasharray:0.8 0.8" d="M864,1754.6 L957,1807.2 Q963,1810 969,1806.6 L1056.6,1756.4"/>
<path class="mw" d="M963.7,1702.4 L966.4,1697 Q968,1693.6 970.4,1694.6 L1040.8,1735.4 L1040.1,1743.1 L1035.9,1743.8 Z"/>
<path class="m" d="M964.6,1698.6 L1035.9,1737.5 L1035.9,1743.8" />
<path class="t" d="M1035.9,1737.5 L1040.8,1735.4" />
<path class="m" d="M875,1758.8 L875,1762.8" />
<path class="m" d="M887.3,1765.7 L887.3,1769.7" />
<path class="m" d="M899.7,1772.7 L899.7,1776.7" />
<path class="m" d="M912.1,1779.7 L912.1,1783.7" />
<path class="m" d="M924.4,1786.7 L924.4,1790.7" />
<path class="m" d="M936.8,1793.6 L936.8,1797.6" />
<path class="m" d="M949.2,1800.6 L949.2,1804.6" />
<path class="m" d="M985.8,1794.7 L985.8,1799.1" />
<path class="m" d="M1002.3,1785.4 L1002.3,1789.8" />
<path class="m" d="M1018.8,1776.1 L1018.8,1780.5" />
<path class="m" d="M1035.3,1766.8 L1035.3,1771.2" />
<path class="m" d="M1051.8,1757.5 L1051.8,1761.9" />
<rect class="t" x="954" y="1716.7" width="11.6" height="2.4" rx="1.2" transform="rotate(30 959.8 1717.9)" style="stroke:#111;stroke-width:0.85"/>
<rect class="t" x="946.5" y="1721.3" width="11.6" height="2.4" rx="1.2" transform="rotate(30 952.3 1722.5)" style="stroke:#111;stroke-width:0.85"/>
<rect class="t" x="968.9" y="1725.3" width="11.6" height="2.4" rx="1.2" transform="rotate(30 974.7 1726.5)" style="stroke:#111;stroke-width:0.85"/>
<rect class="t" x="961.4" y="1729.9" width="11.6" height="2.4" rx="1.2" transform="rotate(30 967.2 1731.1)" style="stroke:#111;stroke-width:0.85"/>
<rect class="t" x="983.8" y="1733.9" width="11.6" height="2.4" rx="1.2" transform="rotate(30 989.6 1735.1)" style="stroke:#111;stroke-width:0.85"/>
<rect class="t" x="976.3" y="1738.5" width="11.6" height="2.4" rx="1.2" transform="rotate(30 982.1 1739.7)" style="stroke:#111;stroke-width:0.85"/>
<rect class="t" x="998.8" y="1742.5" width="11.6" height="2.4" rx="1.2" transform="rotate(30 1004.6 1743.7)" style="stroke:#111;stroke-width:0.85"/>
<rect class="t" x="991.3" y="1747.1" width="11.6" height="2.4" rx="1.2" transform="rotate(30 997.1 1748.3)" style="stroke:#111;stroke-width:0.85"/>
<rect class="t" x="1013.7" y="1751.1" width="11.6" height="2.4" rx="1.2" transform="rotate(30 1019.5 1752.3)" style="stroke:#111;stroke-width:0.85"/>
<rect class="t" x="1006.2" y="1755.7" width="11.6" height="2.4" rx="1.2" transform="rotate(30 1012 1756.9)" style="stroke:#111;stroke-width:0.85"/>
<rect class="t" x="923.4" y="1734.4" width="11.6" height="2.4" rx="1.2" transform="rotate(30 929.2 1735.6)" style="stroke:#111;stroke-width:0.85"/>
<rect class="t" x="915.9" y="1739" width="11.6" height="2.4" rx="1.2" transform="rotate(30 921.7 1740.2)" style="stroke:#111;stroke-width:0.85"/>
<rect class="t" x="938.3" y="1743" width="11.6" height="2.4" rx="1.2" transform="rotate(30 944.1 1744.2)" style="stroke:#111;stroke-width:0.85"/>
<rect class="t" x="930.8" y="1747.6" width="11.6" height="2.4" rx="1.2" transform="rotate(30 936.6 1748.8)" style="stroke:#111;stroke-width:0.85"/>
<rect class="t" x="953.2" y="1751.6" width="11.6" height="2.4" rx="1.2" transform="rotate(30 959 1752.8)" style="stroke:#111;stroke-width:0.85"/>
<rect class="t" x="945.7" y="1756.2" width="11.6" height="2.4" rx="1.2" transform="rotate(30 951.5 1757.4)" style="stroke:#111;stroke-width:0.85"/>
<rect class="t" x="968.2" y="1760.2" width="11.6" height="2.4" rx="1.2" transform="rotate(30 974 1761.4)" style="stroke:#111;stroke-width:0.85"/>
<rect class="t" x="960.7" y="1764.8" width="11.6" height="2.4" rx="1.2" transform="rotate(30 966.5 1766)" style="stroke:#111;stroke-width:0.85"/>
<rect class="t" x="983.1" y="1768.8" width="11.6" height="2.4" rx="1.2" transform="rotate(30 988.9 1770)" style="stroke:#111;stroke-width:0.85"/>
<rect class="t" x="975.6" y="1773.4" width="11.6" height="2.4" rx="1.2" transform="rotate(30 981.4 1774.6)" style="stroke:#111;stroke-width:0.85"/>
<rect class="t" x="892.8" y="1752.1" width="11.6" height="2.4" rx="1.2" transform="rotate(30 898.6 1753.3)" style="stroke:#111;stroke-width:0.85"/>
<rect class="t" x="885.3" y="1756.7" width="11.6" height="2.4" rx="1.2" transform="rotate(30 891.1 1757.9)" style="stroke:#111;stroke-width:0.85"/>
<rect class="t" x="907.7" y="1760.7" width="11.6" height="2.4" rx="1.2" transform="rotate(30 913.5 1761.9)" style="stroke:#111;stroke-width:0.85"/>
<rect class="t" x="900.2" y="1765.3" width="11.6" height="2.4" rx="1.2" transform="rotate(30 906 1766.5)" style="stroke:#111;stroke-width:0.85"/>
<rect class="t" x="922.6" y="1769.3" width="11.6" height="2.4" rx="1.2" transform="rotate(30 928.4 1770.5)" style="stroke:#111;stroke-width:0.85"/>
<rect class="t" x="915.1" y="1773.9" width="11.6" height="2.4" rx="1.2" transform="rotate(30 920.9 1775.1)" style="stroke:#111;stroke-width:0.85"/>
<rect class="t" x="937.6" y="1777.9" width="11.6" height="2.4" rx="1.2" transform="rotate(30 943.4 1779.1)" style="stroke:#111;stroke-width:0.85"/>
<rect class="t" x="930.1" y="1782.5" width="11.6" height="2.4" rx="1.2" transform="rotate(30 935.9 1783.7)" style="stroke:#111;stroke-width:0.85"/>
<rect class="t" x="952.5" y="1786.5" width="11.6" height="2.4" rx="1.2" transform="rotate(30 958.3 1787.7)" style="stroke:#111;stroke-width:0.85"/>
<rect class="t" x="945" y="1791.1" width="11.6" height="2.4" rx="1.2" transform="rotate(30 950.8 1792.3)" style="stroke:#111;stroke-width:0.85"/>
<ellipse class="t" cx="878.8" cy="1752.3" rx="2.6" ry="2" style="stroke:#222"/>
<ellipse class="t" cx="960.8" cy="1800" rx="2.6" ry="2" style="stroke:#222"/>
<g transform="translate(-116.4 -70)" >
<path class="ow" d="M861.9,1751.6 Q861.6,1750.4 863.2,1749.6 L959.4,1694 L964.4,1696.8 L963.7,1702.4 L966.4,1697 Q968,1693.6 970.4,1694.6 L1040.8,1735.4 L1040.1,1743.1 L1053.5,1750.2 Q1055.4,1749.4 1057,1750.6 Q1059.6,1752 1059.1,1754 L1057.7,1758.8 L969.6,1810.4 Q966.6,1812.2 963.4,1812 Q960.4,1811.8 958,1810 L861.9,1754.6 Z" style="stroke-width:1.6"/>
<path class="m" d="M862.6,1751.4 L956.6,1804.4 Q963,1807.6 969.3,1803.6 L1058.4,1753.4"/>
<path class="t" style="stroke:#555;stroke-width:1.7;stroke-dasharray:0.8 0.8" d="M864,1754.6 L957,1807.2 Q963,1810 969,1806.6 L1056.6,1756.4"/>
<path class="mw" d="M963.7,1702.4 L966.4,1697 Q968,1693.6 970.4,1694.6 L1040.8,1735.4 L1040.1,1743.1 L1035.9,1743.8 Z"/>
<path class="m" d="M964.6,1698.6 L1035.9,1737.5 L1035.9,1743.8" />
<path class="t" d="M1035.9,1737.5 L1040.8,1735.4" />
<path class="m" d="M875,1758.8 L875,1762.8" />
<path class="m" d="M887.3,1765.7 L887.3,1769.7" />
<path class="m" d="M899.7,1772.7 L899.7,1776.7" />
<path class="m" d="M912.1,1779.7 L912.1,1783.7" />
<path class="m" d="M924.4,1786.7 L924.4,1790.7" />
<path class="m" d="M936.8,1793.6 L936.8,1797.6" />
<path class="m" d="M949.2,1800.6 L949.2,1804.6" />
<path class="m" d="M985.8,1794.7 L985.8,1799.1" />
<path class="m" d="M1002.3,1785.4 L1002.3,1789.8" />
<path class="m" d="M1018.8,1776.1 L1018.8,1780.5" />
<path class="m" d="M1035.3,1766.8 L1035.3,1771.2" />
<path class="m" d="M1051.8,1757.5 L1051.8,1761.9" />
<rect class="t" x="954" y="1716.7" width="11.6" height="2.4" rx="1.2" transform="rotate(30 959.8 1717.9)" style="stroke:#111;stroke-width:0.85"/>
<rect class="t" x="946.5" y="1721.3" width="11.6" height="2.4" rx="1.2" transform="rotate(30 952.3 1722.5)" style="stroke:#111;stroke-width:0.85"/>
<rect class="t" x="968.9" y="1725.3" width="11.6" height="2.4" rx="1.2" transform="rotate(30 974.7 1726.5)" style="stroke:#111;stroke-width:0.85"/>
<rect class="t" x="961.4" y="1729.9" width="11.6" height="2.4" rx="1.2" transform="rotate(30 967.2 1731.1)" style="stroke:#111;stroke-width:0.85"/>
<rect class="t" x="983.8" y="1733.9" width="11.6" height="2.4" rx="1.2" transform="rotate(30 989.6 1735.1)" style="stroke:#111;stroke-width:0.85"/>
<rect class="t" x="976.3" y="1738.5" width="11.6" height="2.4" rx="1.2" transform="rotate(30 982.1 1739.7)" style="stroke:#111;stroke-width:0.85"/>
<rect class="t" x="998.8" y="1742.5" width="11.6" height="2.4" rx="1.2" transform="rotate(30 1004.6 1743.7)" style="stroke:#111;stroke-width:0.85"/>
<rect class="t" x="991.3" y="1747.1" width="11.6" height="2.4" rx="1.2" transform="rotate(30 997.1 1748.3)" style="stroke:#111;stroke-width:0.85"/>
<rect class="t" x="1013.7" y="1751.1" width="11.6" height="2.4" rx="1.2" transform="rotate(30 1019.5 1752.3)" style="stroke:#111;stroke-width:0.85"/>
<rect class="t" x="1006.2" y="1755.7" width="11.6" height="2.4" rx="1.2" transform="rotate(30 1012 1756.9)" style="stroke:#111;stroke-width:0.85"/>
<rect class="t" x="923.4" y="1734.4" width="11.6" height="2.4" rx="1.2" transform="rotate(30 929.2 1735.6)" style="stroke:#111;stroke-width:0.85"/>
<rect class="t" x="915.9" y="1739" width="11.6" height="2.4" rx="1.2" transform="rotate(30 921.7 1740.2)" style="stroke:#111;stroke-width:0.85"/>
<rect class="t" x="938.3" y="1743" width="11.6" height="2.4" rx="1.2" transform="rotate(30 944.1 1744.2)" style="stroke:#111;stroke-width:0.85"/>
<rect class="t" x="930.8" y="1747.6" width="11.6" height="2.4" rx="1.2" transform="rotate(30 936.6 1748.8)" style="stroke:#111;stroke-width:0.85"/>
<rect class="t" x="953.2" y="1751.6" width="11.6" height="2.4" rx="1.2" transform="rotate(30 959 1752.8)" style="stroke:#111;stroke-width:0.85"/>
<rect class="t" x="945.7" y="1756.2" width="11.6" height="2.4" rx="1.2" transform="rotate(30 951.5 1757.4)" style="stroke:#111;stroke-width:0.85"/>
<rect class="t" x="968.2" y="1760.2" width="11.6" height="2.4" rx="1.2" transform="rotate(30 974 1761.4)" style="stroke:#111;stroke-width:0.85"/>
<rect class="t" x="960.7" y="1764.8" width="11.6" height="2.4" rx="1.2" transform="rotate(30 966.5 1766)" style="stroke:#111;stroke-width:0.85"/>
<rect class="t" x="983.1" y="1768.8" width="11.6" height="2.4" rx="1.2" transform="rotate(30 988.9 1770)" style="stroke:#111;stroke-width:0.85"/>
<rect class="t" x="975.6" y="1773.4" width="11.6" height="2.4" rx="1.2" transform="rotate(30 981.4 1774.6)" style="stroke:#111;stroke-width:0.85"/>
<rect class="t" x="892.8" y="1752.1" width="11.6" height="2.4" rx="1.2" transform="rotate(30 898.6 1753.3)" style="stroke:#111;stroke-width:0.85"/>
<rect class="t" x="885.3" y="1756.7" width="11.6" height="2.4" rx="1.2" transform="rotate(30 891.1 1757.9)" style="stroke:#111;stroke-width:0.85"/>
<rect class="t" x="907.7" y="1760.7" width="11.6" height="2.4" rx="1.2" transform="rotate(30 913.5 1761.9)" style="stroke:#111;stroke-width:0.85"/>
<rect class="t" x="900.2" y="1765.3" width="11.6" height="2.4" rx="1.2" transform="rotate(30 906 1766.5)" style="stroke:#111;stroke-width:0.85"/>
<rect class="t" x="922.6" y="1769.3" width="11.6" height="2.4" rx="1.2" transform="rotate(30 928.4 1770.5)" style="stroke:#111;stroke-width:0.85"/>
<rect class="t" x="915.1" y="1773.9" width="11.6" height="2.4" rx="1.2" transform="rotate(30 920.9 1775.1)" style="stroke:#111;stroke-width:0.85"/>
<rect class="t" x="937.6" y="1777.9" width="11.6" height="2.4" rx="1.2" transform="rotate(30 943.4 1779.1)" style="stroke:#111;stroke-width:0.85"/>
<rect class="t" x="930.1" y="1782.5" width="11.6" height="2.4" rx="1.2" transform="rotate(30 935.9 1783.7)" style="stroke:#111;stroke-width:0.85"/>
<rect class="t" x="952.5" y="1786.5" width="11.6" height="2.4" rx="1.2" transform="rotate(30 958.3 1787.7)" style="stroke:#111;stroke-width:0.85"/>
<rect class="t" x="945" y="1791.1" width="11.6" height="2.4" rx="1.2" transform="rotate(30 950.8 1792.3)" style="stroke:#111;stroke-width:0.85"/>
<ellipse class="t" cx="878.8" cy="1752.3" rx="2.6" ry="2" style="stroke:#222"/>
<ellipse class="t" cx="960.8" cy="1800" rx="2.6" ry="2" style="stroke:#222"/>
</g>
<path class="ow" d="M571.2,1752.9 L584.7,1745.9 L585.3,1751.6 L604.6,1759.6 L606.3,1755.7 L609.1,1754.3 L819.6,1876.4 L819.6,1882 L824,1884.4 L822.6,1887.2 L846.8,1896.9 L847.6,1914.3 Q846,1918.6 840.6,1919.9 L826.4,1919.9 Q822.4,1918.4 821,1910.4 C816.9,1907.3 831.9,1913.8 808.7,1901.2 C785.5,1888.6 789.6,1891.9 751.3,1872.5 C713,1853.1 732.2,1863.9 693.9,1842.9 C655.6,1821.9 672.5,1831.2 636.5,1809.4 C600.5,1787.6 602.8,1788.2 586,1777.6 L576.4,1776.8 Q571.8,1775.4 571.2,1771 Z" style="stroke-width:1.6"/>
<path class="m" d="M571.5,1761.6 C582,1767.3 581.3,1767.1 603,1778.6 C624.7,1790.1 606.2,1779.4 636.5,1796 C666.8,1812.6 655.6,1807.8 693.9,1828.5 C732.2,1849.2 713,1839.7 751.3,1858.2 C789.6,1876.7 776.9,1870.3 808.7,1884 C840.5,1897.7 834.1,1894.1 846.8,1899.2"/>
<path class="t" d="M571.5,1764.6 C582,1770.3 581.3,1770.1 603,1781.6 C624.7,1793.1 606.2,1782.4 636.5,1799 C666.8,1815.6 655.6,1810.8 693.9,1831.5 C732.2,1852.2 713,1842.7 751.3,1861.2 C789.6,1879.7 783.8,1874.2 808.7,1887 C833.6,1899.8 820.2,1895.4 826,1899.6"/>
<path class="t" d="M586,1775.1 C602.8,1785.7 600.5,1785.1 636.5,1806.9 C672.5,1828.7 655.6,1819.4 693.9,1840.4 C732.2,1861.4 713,1850.6 751.3,1870 C789.6,1889.4 785,1887 808.7,1898.7 C832.4,1910.4 817.8,1902.9 822.4,1905"/>
<path class="m" d="M606.3,1755.7 L816.4,1877.8 L819.6,1876.4" />
<path class="m" d="M606.3,1760.4 L822.6,1886" />
<path class="t" d="M608.6,1757.2 L608.6,1761.6" />
<path class="t" d="M740,1836 L818,1881.4" />
<path class="t" d="M740,1838.6 L818,1884" />
<ellipse class="m" cx="618.4" cy="1765.2" rx="1.8" ry="2.2" />
<ellipse class="t" cx="618.4" cy="1765.2" rx="0.8" ry="1" />
<ellipse class="m" cx="681.4" cy="1801.6" rx="1.8" ry="2.2" />
<ellipse class="t" cx="681.4" cy="1801.6" rx="0.8" ry="1" />
<ellipse class="m" cx="744.6" cy="1838.4" rx="1.8" ry="2.2" />
<ellipse class="t" cx="744.6" cy="1838.4" rx="0.8" ry="1" />
<ellipse class="m" cx="808" cy="1875.4" rx="1.8" ry="2.2" />
<ellipse class="t" cx="808" cy="1875.4" rx="0.8" ry="1" />
<path class="t" d="M821,1910.4 L822.4,1903" />
<path class="t" d="M753.6,1911.5 L802.7,1879.2" style="stroke:#222"/>
<g transform="translate(743.4 1917) rotate(-29.1)">
<path class="mw" d="M0,-3 L2.6,-2.55 L2.6,2.55 L0,3 Z"/>
<ellipse class="mw" cx="0" cy="0" rx="1.5" ry="3"/>
<path class="mw" d="M2.6,-1.3 L9.3,-1.3 L11.9,0 L9.3,1.3 L2.6,1.3 Z"/>
<path class="m" d="M4,-1.3 L5.2,1.3"/>
<path class="m" d="M6.2,-1.3 L7.4,1.3"/>
<path class="m" d="M8.4,-1.3 L9.6,1.3"/>
</g>
<path class="l" d="M977.9,1353.4 L989,1377.7" style="stroke-width:1.25"/>
<circle cx="977.9" cy="1353.4" r="3.1" fill="#111"/>
<path class="l" d="M1135.9,1406.3 L1148.6,1419.7" style="stroke-width:1.25"/>
<circle cx="1135.9" cy="1406.3" r="3.5" fill="#111"/>
<path class="l" d="M1100.2,1438.9 L1114.8,1453.5" style="stroke-width:1.25"/>
<circle cx="1100.2" cy="1438.9" r="3.5" fill="#111"/>
<path class="l" d="M1120.9,1490.9 L1135,1506.5" style="stroke-width:1.25"/>
<circle cx="1120.9" cy="1490.9" r="3.5" fill="#111"/>
<path class="l" d="M1374.8,1469.3 L1381.5,1489.8" style="stroke-width:1.25"/>
<circle cx="1374.8" cy="1469.3" r="3.5" fill="#111"/>
<path class="l" d="M1335.4,1505.6 L1363.3,1530.8" style="stroke-width:1.25"/>
<circle cx="1335.4" cy="1505.6" r="3.5" fill="#111"/>
<path class="l" d="M1372.4,1557.6 L1386.6,1572.8" style="stroke-width:1.25"/>
<circle cx="1372.4" cy="1557.6" r="3.5" fill="#111"/>
<path class="l" d="M1189.2,1607.1 L1167.1,1610.4" style="stroke-width:1.25"/>
<circle cx="1189.2" cy="1607.1" r="3.5" fill="#111"/>
<path class="l" d="M884.7,1651 L922,1631.4" style="stroke-width:1.25"/>
<circle cx="884.7" cy="1651" r="3.1" fill="#111"/>
<path class="l" d="M1005,1728.7 L1031.9,1701.6" style="stroke-width:1.25"/>
<circle cx="1005" cy="1728.7" r="3.1" fill="#111"/>
<path class="l" d="M839.2,1912 L864.5,1932.5" style="stroke-width:1.25"/>
<circle cx="839.2" cy="1912" r="3.3" fill="#111"/>
<path class="l" d="M751.4,1919.9 L777.5,1939.5" style="stroke-width:1.25"/>
<circle cx="751.4" cy="1919.9" r="3.3" fill="#111"/>
<text x="976.6" y="1391.9" font-size="17.31">5-25</text>
<text x="1141.2" y="1437.5" font-size="18.01">2-7-2</text>
<text x="1118" y="1464.2" font-size="18.01">2-7-1</text>
<text x="1138.6" y="1516.2" font-size="18.01">2-7</text>
<text x="1387.7" y="1497.9" font-size="18.01">2-8-2</text>
<text x="1367.6" y="1538.9" font-size="18.01">2-7-1</text>
<text x="1389.9" y="1582.7" font-size="18.01">2-8</text>
<text x="1136.5" y="1616.2" font-size="17.41">2-5</text>
<text x="927.4" y="1635.8" font-size="17.61">2-121</text>
<text x="1031.8" y="1695.1" font-size="17.61">2-122</text>
<text x="870.1" y="1943.1" font-size="17.81">5-42</text>
<text x="782.3" y="1951.6" font-size="17.41">4-21</text>
</svg>
</body></html>
